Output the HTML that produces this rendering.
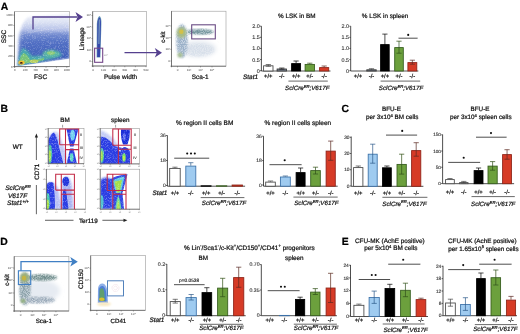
<!DOCTYPE html>
<html><head><meta charset="utf-8"><style>
html,body{margin:0;padding:0;background:#fff;width:520px;height:334px;overflow:hidden}
svg{display:block;will-change:transform}
text{font-family:"Liberation Sans", sans-serif;text-rendering:geometricPrecision}
</style></head><body>
<svg width="520" height="334" viewBox="0 0 520 334" font-family='"Liberation Sans", sans-serif'>
<defs>
<filter id="bl1" x="-20%" y="-20%" width="140%" height="140%"><feGaussianBlur stdDeviation="1.2"/></filter>
<filter id="bl2" x="-20%" y="-20%" width="140%" height="140%"><feGaussianBlur stdDeviation="2"/></filter>
<filter id="speck" x="-10%" y="-10%" width="120%" height="120%"><feGaussianBlur stdDeviation="1.2" result="b"/><feTurbulence type="fractalNoise" baseFrequency="0.9" numOctaves="2" seed="7" result="n"/><feColorMatrix in="n" type="matrix" values="0 0 0 0 0  0 0 0 0 0  0 0 0 0 0  0 0 0 3.2 -1.0" result="na"/><feComposite in="b" in2="na" operator="in"/></filter>
<filter id="wnoise" x="0" y="0" width="100%" height="100%"><feTurbulence type="fractalNoise" baseFrequency="1.6" numOctaves="1" seed="11" result="n"/><feColorMatrix in="n" type="matrix" values="0 0 0 0 1  0 0 0 0 1  0 0 0 0 1  0 0 0 3 -1.45"/></filter>
<filter id="gblur" x="0" y="0" width="520" height="334" filterUnits="userSpaceOnUse"><feGaussianBlur stdDeviation="0.3"/></filter>
<filter id="bl05" x="-20%" y="-20%" width="140%" height="140%"><feGaussianBlur stdDeviation="0.6"/></filter>
<clipPath id="cA1"><rect x="14.5" y="11.7" width="55.2" height="54.9"/></clipPath>
<clipPath id="cA2"><rect x="92.7" y="11.5" width="53.9" height="54.5"/></clipPath>
<clipPath id="cA3"><rect x="171.5" y="11.2" width="54.5" height="55"/></clipPath>
<clipPath id="cB1"><rect x="48.2" y="128.3" width="35.8" height="35.4"/></clipPath>
<clipPath id="cB2"><rect x="100.2" y="128.3" width="39.3" height="35.6"/></clipPath>
<clipPath id="cB3"><rect x="46.4" y="169.2" width="39" height="40"/></clipPath>
<clipPath id="cB4"><rect x="100.2" y="169.2" width="39.5" height="40"/></clipPath>
<clipPath id="cD1"><rect x="14.2" y="256.4" width="54.7" height="54.6"/></clipPath>
<clipPath id="cD2"><rect x="90.7" y="255.7" width="54.7" height="54.6"/></clipPath>
</defs>
<rect width="520" height="334" fill="#fff"/>
<g filter="url(#gblur)">
<text x="0.8" y="10.2" font-size="10.4" text-anchor="start" font-weight="bold" font-style="normal" fill="#000" stroke="#000" stroke-width="0.22" >A</text>
<text x="0.6" y="112.3" font-size="10.4" text-anchor="start" font-weight="bold" font-style="normal" fill="#000" stroke="#000" stroke-width="0.22" >B</text>
<text x="341.4" y="112.3" font-size="10.4" text-anchor="start" font-weight="bold" font-style="normal" fill="#000" stroke="#000" stroke-width="0.22" >C</text>
<text x="0.2" y="244.6" font-size="10.4" text-anchor="start" font-weight="bold" font-style="normal" fill="#000" stroke="#000" stroke-width="0.22" >D</text>
<text x="341.8" y="244.6" font-size="10.4" text-anchor="start" font-weight="bold" font-style="normal" fill="#000" stroke="#000" stroke-width="0.22" >E</text>
<defs><linearGradient id="gA1" x1="0" y1="12" x2="0" y2="66" gradientUnits="userSpaceOnUse">
<stop offset="0" stop-color="#f4f5fb"/><stop offset="0.185" stop-color="#dde3f4"/><stop offset="0.333" stop-color="#b4c0e8"/>
<stop offset="0.41" stop-color="#748cd0"/><stop offset="0.56" stop-color="#5270c4"/><stop offset="1" stop-color="#3656b4"/></linearGradient>
<linearGradient id="gA1x" x1="15" y1="0" x2="30" y2="0" gradientUnits="userSpaceOnUse">
<stop offset="0" stop-color="#fff" stop-opacity="1"/><stop offset="1" stop-color="#fff" stop-opacity="0"/></linearGradient></defs>
<g clip-path="url(#cA1)">
<path d="M17.5,66 L17.8,40 Q19,24 28,17 L69.7,14 L69.7,58.5 Z" fill="url(#gA1)" filter="url(#bl1)"/>
<path d="M14,12 L26,12 Q20,24 19,40 L17,66 L14,66 Z" fill="#fff" filter="url(#bl2)" opacity="0.85"/>
<path d="M18,66 Q18.5,52 23,48 Q28,50 32,56 Q45,56 60,52 L62,56 Q45,61 18,66 Z" fill="#4aa8ae" filter="url(#bl1)"/>
<path d="M19,64 Q20,55 24,53 Q28,55 30,60 Q38,60 44,58 L44,60 Q30,63 19,64 Z" fill="#78c478" filter="url(#bl05)"/>
<ellipse cx="51" cy="53.5" rx="8.5" ry="3.5" fill="#5cb8a0" filter="url(#bl1)"/>
<ellipse cx="51" cy="53" rx="4" ry="1.8" fill="#8ecb7a" filter="url(#bl05)"/>
<ellipse cx="34" cy="61.2" rx="4.5" ry="1.8" fill="#b8d060" filter="url(#bl05)"/>
<ellipse cx="21.5" cy="62.6" rx="3.2" ry="2.2" fill="#f0c030" filter="url(#bl05)"/>
<ellipse cx="21.2" cy="63" rx="1.5" ry="1.1" fill="#401808" filter="url(#bl05)"/>
<rect x="14" y="11" width="56" height="56" filter="url(#wnoise)" opacity="0.32"/>
<path d="M14,66.8 L69.7,58.8 L69.7,70 L14,70 Z" fill="#fff" filter="url(#bl05)"/>
<path d="M18.5,35.5 Q40,29 69,27.5" fill="none" stroke="#e8e8f0" stroke-width="0.5" stroke-dasharray="1 0.8" opacity="0.8"/>
</g>
<rect x="14.5" y="11.7" width="55.2" height="54.89999999999999" fill="none" stroke="#9a9a9a" stroke-width="0.6" />
<line x1="14.5" y1="11.7" x2="14.5" y2="67.6" stroke="#555" stroke-width="0.7" />
<line x1="13.5" y1="66.6" x2="69.7" y2="66.6" stroke="#555" stroke-width="0.7" />
<line x1="13.3" y1="66.6" x2="14.5" y2="66.6" stroke="#555" stroke-width="0.5" />
<text x="12.6" y="67.5" font-size="2.8" text-anchor="end" font-weight="normal" font-style="normal" fill="#444" >0</text>
<line x1="14.8" y1="66.6" x2="14.8" y2="67.8" stroke="#555" stroke-width="0.5" />
<text x="14.8" y="71.3" font-size="2.8" text-anchor="middle" font-weight="normal" font-style="normal" fill="#444" >0</text>
<line x1="13.3" y1="56.3" x2="14.5" y2="56.3" stroke="#555" stroke-width="0.5" />
<text x="12.6" y="57.199999999999996" font-size="2.8" text-anchor="end" font-weight="normal" font-style="normal" fill="#444" >200</text>
<line x1="25.200000000000003" y1="66.6" x2="25.200000000000003" y2="67.8" stroke="#555" stroke-width="0.5" />
<text x="25.200000000000003" y="71.3" font-size="2.8" text-anchor="middle" font-weight="normal" font-style="normal" fill="#444" >200</text>
<line x1="13.3" y1="45.99999999999999" x2="14.5" y2="45.99999999999999" stroke="#555" stroke-width="0.5" />
<text x="12.6" y="46.89999999999999" font-size="2.8" text-anchor="end" font-weight="normal" font-style="normal" fill="#444" >400</text>
<line x1="35.6" y1="66.6" x2="35.6" y2="67.8" stroke="#555" stroke-width="0.5" />
<text x="35.6" y="71.3" font-size="2.8" text-anchor="middle" font-weight="normal" font-style="normal" fill="#444" >400</text>
<line x1="13.3" y1="35.69999999999999" x2="14.5" y2="35.69999999999999" stroke="#555" stroke-width="0.5" />
<text x="12.6" y="36.59999999999999" font-size="2.8" text-anchor="end" font-weight="normal" font-style="normal" fill="#444" >600</text>
<line x1="46.0" y1="66.6" x2="46.0" y2="67.8" stroke="#555" stroke-width="0.5" />
<text x="46.0" y="71.3" font-size="2.8" text-anchor="middle" font-weight="normal" font-style="normal" fill="#444" >600</text>
<line x1="13.3" y1="25.39999999999999" x2="14.5" y2="25.39999999999999" stroke="#555" stroke-width="0.5" />
<text x="12.6" y="26.29999999999999" font-size="2.8" text-anchor="end" font-weight="normal" font-style="normal" fill="#444" >800</text>
<line x1="56.400000000000006" y1="66.6" x2="56.400000000000006" y2="67.8" stroke="#555" stroke-width="0.5" />
<text x="56.400000000000006" y="71.3" font-size="2.8" text-anchor="middle" font-weight="normal" font-style="normal" fill="#444" >800</text>
<line x1="13.3" y1="15.099999999999994" x2="14.5" y2="15.099999999999994" stroke="#555" stroke-width="0.5" />
<text x="12.6" y="15.999999999999995" font-size="2.8" text-anchor="end" font-weight="normal" font-style="normal" fill="#444" >1000</text>
<line x1="66.8" y1="66.6" x2="66.8" y2="67.8" stroke="#555" stroke-width="0.5" />
<text x="66.8" y="71.3" font-size="2.8" text-anchor="middle" font-weight="normal" font-style="normal" fill="#444" >1000</text>
<text x="40.6" y="79" font-size="6.6" text-anchor="middle" font-weight="normal" font-style="normal" fill="#111" stroke="#111" stroke-width="0.22" >FSC</text>
<text x="0" y="0" font-size="6.6" text-anchor="middle" font-weight="normal" font-style="normal" fill="#111" stroke="#111" stroke-width="0.22" transform="translate(6.2,36.5) rotate(-90)">SSC</text>
<path d="M33,29.5 L33,17 L77,17" fill="none" stroke="#54408e" stroke-width="1.3"/>
<path d="M75.5,12 L83,17 L75.5,22 L77.5,17 Z" fill="#54408e"/>
<g clip-path="url(#cA2)">
<path d="M96.6,57.5 L96.8,24 Q97.4,16.5 99.6,16 Q101.6,17 101.4,24 L100.4,57.5 Z" fill="#6c9cb8" filter="url(#bl05)"/>
<path d="M97.2,57 L97.4,24 Q97.8,18 99.6,17.5 Q101,18.5 100.9,24 L99.9,57 Z" fill="#3446ac" filter="url(#bl05)"/>
<path d="M99.3,19.5 L98.9,44" stroke="#a8d8d0" stroke-width="0.7" filter="url(#bl05)"/>
</g>
<rect x="92.7" y="11.5" width="53.89999999999999" height="54.5" fill="none" stroke="#9a9a9a" stroke-width="0.6" />
<line x1="92.7" y1="11.5" x2="92.7" y2="67" stroke="#555" stroke-width="0.7" />
<line x1="91.7" y1="66" x2="146.6" y2="66" stroke="#555" stroke-width="0.7" />
<rect x="94.6" y="48.2" width="8.1" height="14.1" fill="none" stroke="#74478a" stroke-width="1.1" />
<text x="104.2" y="55.5" font-size="2.4" text-anchor="start" font-weight="normal" font-style="normal" fill="#666" >2.7</text>
<line x1="93.0" y1="66" x2="93.0" y2="67.2" stroke="#555" stroke-width="0.5" />
<text x="93.0" y="70.8" font-size="3.0" text-anchor="middle" font-weight="normal" font-style="normal" fill="#444" >0</text>
<line x1="103.6" y1="66" x2="103.6" y2="67.2" stroke="#555" stroke-width="0.5" />
<text x="103.6" y="70.8" font-size="3.0" text-anchor="middle" font-weight="normal" font-style="normal" fill="#444" >100</text>
<line x1="114.2" y1="66" x2="114.2" y2="67.2" stroke="#555" stroke-width="0.5" />
<text x="114.2" y="70.8" font-size="3.0" text-anchor="middle" font-weight="normal" font-style="normal" fill="#444" >200</text>
<line x1="124.8" y1="66" x2="124.8" y2="67.2" stroke="#555" stroke-width="0.5" />
<text x="124.8" y="70.8" font-size="3.0" text-anchor="middle" font-weight="normal" font-style="normal" fill="#444" >300</text>
<line x1="135.4" y1="66" x2="135.4" y2="67.2" stroke="#555" stroke-width="0.5" />
<text x="135.4" y="70.8" font-size="3.0" text-anchor="middle" font-weight="normal" font-style="normal" fill="#444" >400</text>
<line x1="146.0" y1="66" x2="146.0" y2="67.2" stroke="#555" stroke-width="0.5" />
<text x="146.0" y="70.8" font-size="3.0" text-anchor="middle" font-weight="normal" font-style="normal" fill="#444" >500</text>
<line x1="91.5" y1="61.5" x2="92.7" y2="61.5" stroke="#555" stroke-width="0.5" />
<text x="91" y="62.4" font-size="3.0" text-anchor="end" font-weight="normal" font-style="normal" fill="#444" >0</text>
<line x1="91.5" y1="50.0" x2="92.7" y2="50.0" stroke="#555" stroke-width="0.5" />
<text x="91" y="50.9" font-size="3.0" text-anchor="end" font-weight="normal" font-style="normal" fill="#444" >10²</text>
<line x1="91.5" y1="38.5" x2="92.7" y2="38.5" stroke="#555" stroke-width="0.5" />
<text x="91" y="39.4" font-size="3.0" text-anchor="end" font-weight="normal" font-style="normal" fill="#444" >10³</text>
<line x1="91.5" y1="27.0" x2="92.7" y2="27.0" stroke="#555" stroke-width="0.5" />
<text x="91" y="27.9" font-size="3.0" text-anchor="end" font-weight="normal" font-style="normal" fill="#444" >10⁴</text>
<line x1="91.5" y1="15.5" x2="92.7" y2="15.5" stroke="#555" stroke-width="0.5" />
<text x="91" y="16.4" font-size="3.0" text-anchor="end" font-weight="normal" font-style="normal" fill="#444" >10⁵</text>
<text x="120.6" y="79" font-size="6.5" text-anchor="middle" font-weight="normal" font-style="normal" fill="#111" stroke="#111" stroke-width="0.22" >Pulse width</text>
<text x="0" y="0" font-size="6.4" text-anchor="middle" font-weight="normal" font-style="normal" fill="#111" stroke="#111" stroke-width="0.22" transform="translate(83.6,38.75) rotate(-90)">Lineage</text>
<path d="M124.5,52.7 L157,52.7" fill="none" stroke="#54408e" stroke-width="1.3"/>
<path d="M154.8,48 L162,52.7 L154.8,57.5 L156.8,52.7 Z" fill="#54408e"/>
<g clip-path="url(#cA3)">
<ellipse cx="198" cy="49" rx="18" ry="8" fill="#e4e9f0" filter="url(#bl2)"/>
<ellipse cx="198" cy="50" rx="16" ry="6.5" fill="#c6d2e2" filter="url(#speck)" opacity="0.45"/>
<ellipse cx="182" cy="41" rx="5.5" ry="16.5" fill="#c8d4e2" filter="url(#bl1)"/>
<ellipse cx="182" cy="41" rx="5.5" ry="16.5" fill="#9ab0c8" filter="url(#speck)"/>
<ellipse cx="200" cy="31.8" rx="13.5" ry="2.6" fill="#a8bec4" filter="url(#bl1)"/>
<ellipse cx="200" cy="31.8" rx="13.5" ry="2.6" fill="#6f929a" filter="url(#speck)"/>
<ellipse cx="181.5" cy="32.5" rx="4.8" ry="5.5" fill="#a8bc84" filter="url(#bl1)"/>
<ellipse cx="181.3" cy="31.8" rx="2.2" ry="2.2" fill="#d2c04a" filter="url(#bl05)"/>
<ellipse cx="180" cy="55" rx="2.5" ry="2.5" fill="#a8c090" filter="url(#bl1)"/>
</g>
<rect x="171.5" y="11.2" width="54.5" height="55.0" fill="none" stroke="#9a9a9a" stroke-width="0.6" />
<line x1="171.5" y1="11.2" x2="171.5" y2="67.2" stroke="#555" stroke-width="0.7" />
<line x1="170.5" y1="66.2" x2="226" y2="66.2" stroke="#555" stroke-width="0.7" />
<rect x="191.7" y="24.8" width="23.6" height="14.1" fill="none" stroke="#6a4c84" stroke-width="1.1" />
<line x1="177.5" y1="66.2" x2="177.5" y2="67.4" stroke="#555" stroke-width="0.5" />
<text x="177.5" y="70.8" font-size="3.0" text-anchor="middle" font-weight="normal" font-style="normal" fill="#444" >0</text>
<line x1="170.3" y1="61.0" x2="171.5" y2="61.0" stroke="#555" stroke-width="0.5" />
<text x="169.8" y="61.9" font-size="3.0" text-anchor="end" font-weight="normal" font-style="normal" fill="#444" >0</text>
<line x1="189.0" y1="66.2" x2="189.0" y2="67.4" stroke="#555" stroke-width="0.5" />
<text x="189.0" y="70.8" font-size="3.0" text-anchor="middle" font-weight="normal" font-style="normal" fill="#444" >10²</text>
<line x1="170.3" y1="49.3" x2="171.5" y2="49.3" stroke="#555" stroke-width="0.5" />
<text x="169.8" y="50.199999999999996" font-size="3.0" text-anchor="end" font-weight="normal" font-style="normal" fill="#444" >10²</text>
<line x1="200.5" y1="66.2" x2="200.5" y2="67.4" stroke="#555" stroke-width="0.5" />
<text x="200.5" y="70.8" font-size="3.0" text-anchor="middle" font-weight="normal" font-style="normal" fill="#444" >10³</text>
<line x1="170.3" y1="37.6" x2="171.5" y2="37.6" stroke="#555" stroke-width="0.5" />
<text x="169.8" y="38.5" font-size="3.0" text-anchor="end" font-weight="normal" font-style="normal" fill="#444" >10³</text>
<line x1="212.0" y1="66.2" x2="212.0" y2="67.4" stroke="#555" stroke-width="0.5" />
<text x="212.0" y="70.8" font-size="3.0" text-anchor="middle" font-weight="normal" font-style="normal" fill="#444" >10⁴</text>
<line x1="170.3" y1="25.900000000000006" x2="171.5" y2="25.900000000000006" stroke="#555" stroke-width="0.5" />
<text x="169.8" y="26.800000000000004" font-size="3.0" text-anchor="end" font-weight="normal" font-style="normal" fill="#444" >10⁴</text>
<text x="200.2" y="79" font-size="6.4" text-anchor="middle" font-weight="normal" font-style="normal" fill="#111" stroke="#111" stroke-width="0.22" >Sca-1</text>
<text x="0" y="0" font-size="6.1" text-anchor="middle" font-weight="normal" font-style="normal" fill="#111" stroke="#111" stroke-width="0.22" transform="translate(164.8,37.1) rotate(-90)">c-kit</text>
<text x="296.8" y="17.7" font-size="6.35" text-anchor="middle" font-weight="normal" font-style="normal" fill="#111" stroke="#111" stroke-width="0.22" >% LSK in BM</text>
<line x1="261.4" y1="26.2" x2="261.4" y2="71" stroke="#222" stroke-width="0.8" />
<line x1="261.4" y1="71" x2="330.5" y2="71" stroke="#222" stroke-width="0.8" />
<line x1="260.0" y1="26.200000000000003" x2="261.4" y2="26.200000000000003" stroke="#222" stroke-width="0.7" />
<text x="259.7" y="28.144000000000002" font-size="5.4" text-anchor="end" font-weight="normal" font-style="normal" fill="#333" stroke="#333" stroke-width="0.12" >2.0</text>
<line x1="260.0" y1="37.325" x2="261.4" y2="37.325" stroke="#222" stroke-width="0.7" />
<text x="259.7" y="39.269000000000005" font-size="5.4" text-anchor="end" font-weight="normal" font-style="normal" fill="#333" stroke="#333" stroke-width="0.12" >1.5</text>
<line x1="260.0" y1="48.45" x2="261.4" y2="48.45" stroke="#222" stroke-width="0.7" />
<text x="259.7" y="50.394000000000005" font-size="5.4" text-anchor="end" font-weight="normal" font-style="normal" fill="#333" stroke="#333" stroke-width="0.12" >1.0</text>
<line x1="260.0" y1="59.575" x2="261.4" y2="59.575" stroke="#222" stroke-width="0.7" />
<text x="259.7" y="61.519000000000005" font-size="5.4" text-anchor="end" font-weight="normal" font-style="normal" fill="#333" stroke="#333" stroke-width="0.12" >0.5</text>
<line x1="260.0" y1="70.7" x2="261.4" y2="70.7" stroke="#222" stroke-width="0.7" />
<text x="259.7" y="72.644" font-size="5.4" text-anchor="end" font-weight="normal" font-style="normal" fill="#333" stroke="#333" stroke-width="0.12" >0</text>
<rect x="263.59999999999997" y="65.80000000000001" width="9.399999999999988" height="5.199999999999994" fill="#ffffff" stroke="#444444" stroke-width="0.85" />
<line x1="268.29999999999995" y1="64.5" x2="268.29999999999995" y2="66.3" stroke="#444" stroke-width="0.7" />
<line x1="265.69999999999993" y1="64.5" x2="270.9" y2="64.5" stroke="#444" stroke-width="0.7" />
<line x1="265.69999999999993" y1="66.3" x2="270.9" y2="66.3" stroke="#444" stroke-width="0.7" />
<rect x="277.09999999999997" y="69.0" width="9.399999999999988" height="2.0000000000000058" fill="#7d8898" stroke="#333333" stroke-width="0.85" />
<line x1="281.79999999999995" y1="68.0" x2="281.79999999999995" y2="69.2" stroke="#222" stroke-width="0.7" />
<line x1="279.19999999999993" y1="68.0" x2="284.4" y2="68.0" stroke="#222" stroke-width="0.7" />
<line x1="279.19999999999993" y1="69.2" x2="284.4" y2="69.2" stroke="#222" stroke-width="0.7" />
<rect x="291.59999999999997" y="63.6" width="9.00000000000001" height="7.399999999999997" fill="#060606" stroke="#000000" stroke-width="0.85" />
<line x1="296.1" y1="61" x2="296.1" y2="63.2" stroke="#000" stroke-width="0.7" />
<line x1="293.5" y1="61" x2="298.70000000000005" y2="61" stroke="#000" stroke-width="0.7" />
<rect x="305.09999999999997" y="64.4" width="9.399999999999988" height="6.6" fill="#6ca03e" stroke="#355c1c" stroke-width="0.85" />
<line x1="309.79999999999995" y1="63.2" x2="309.79999999999995" y2="64" stroke="#2f4f18" stroke-width="0.7" />
<line x1="307.19999999999993" y1="63.2" x2="312.4" y2="63.2" stroke="#2f4f18" stroke-width="0.7" />
<rect x="319.59999999999997" y="67.60000000000001" width="9.100000000000033" height="3.3999999999999972" fill="#d63a28" stroke="#8e2416" stroke-width="0.85" />
<line x1="324.15" y1="66" x2="324.15" y2="67.2" stroke="#5a2a22" stroke-width="0.7" />
<line x1="321.54999999999995" y1="66" x2="326.75" y2="66" stroke="#5a2a22" stroke-width="0.7" />
<text x="268.29999999999995" y="78.2" font-size="5.8" text-anchor="middle" font-weight="normal" font-style="normal" fill="#111" stroke="#111" stroke-width="0.22" >+/+</text>
<text x="281.79999999999995" y="78.2" font-size="5.8" text-anchor="middle" font-weight="normal" font-style="normal" fill="#111" stroke="#111" stroke-width="0.22" >-/-</text>
<text x="296.1" y="78.2" font-size="5.8" text-anchor="middle" font-weight="normal" font-style="normal" fill="#111" stroke="#111" stroke-width="0.22" >+/+</text>
<text x="309.79999999999995" y="78.2" font-size="5.8" text-anchor="middle" font-weight="normal" font-style="normal" fill="#111" stroke="#111" stroke-width="0.22" >+/-</text>
<text x="324.15" y="78.2" font-size="5.8" text-anchor="middle" font-weight="normal" font-style="normal" fill="#111" stroke="#111" stroke-width="0.22" >-/-</text>
<text x="258" y="78.6" font-size="6.4" text-anchor="end" font-weight="normal" font-style="italic" fill="#111" stroke="#111" stroke-width="0.22" >Stat1</text>
<line x1="288.4" y1="81.1" x2="327.8" y2="81.1" stroke="#444" stroke-width="0.8" />
<text x="307.3" y="90.2" font-size="6.2" text-anchor="middle" font-weight="normal" font-style="italic" fill="#111" stroke="#111" stroke-width="0.22" >SclCre<tspan font-size="4.2" dy="-2.3">ER</tspan><tspan dy="2.3">;V617F</tspan></text>
<text x="385.1" y="17.7" font-size="6.35" text-anchor="middle" font-weight="normal" font-style="normal" fill="#111" stroke="#111" stroke-width="0.22" >% LSK in spleen</text>
<line x1="350.7" y1="26.2" x2="350.7" y2="71" stroke="#222" stroke-width="0.8" />
<line x1="350.7" y1="71" x2="418.3" y2="71" stroke="#222" stroke-width="0.8" />
<line x1="349.3" y1="26.200000000000003" x2="350.7" y2="26.200000000000003" stroke="#222" stroke-width="0.7" />
<text x="349.0" y="28.144000000000002" font-size="5.4" text-anchor="end" font-weight="normal" font-style="normal" fill="#333" stroke="#333" stroke-width="0.12" >2.0</text>
<line x1="349.3" y1="37.325" x2="350.7" y2="37.325" stroke="#222" stroke-width="0.7" />
<text x="349.0" y="39.269000000000005" font-size="5.4" text-anchor="end" font-weight="normal" font-style="normal" fill="#333" stroke="#333" stroke-width="0.12" >1.5</text>
<line x1="349.3" y1="48.45" x2="350.7" y2="48.45" stroke="#222" stroke-width="0.7" />
<text x="349.0" y="50.394000000000005" font-size="5.4" text-anchor="end" font-weight="normal" font-style="normal" fill="#333" stroke="#333" stroke-width="0.12" >1.0</text>
<line x1="349.3" y1="59.575" x2="350.7" y2="59.575" stroke="#222" stroke-width="0.7" />
<text x="349.0" y="61.519000000000005" font-size="5.4" text-anchor="end" font-weight="normal" font-style="normal" fill="#333" stroke="#333" stroke-width="0.12" >0.5</text>
<line x1="349.3" y1="70.7" x2="350.7" y2="70.7" stroke="#222" stroke-width="0.7" />
<text x="349.0" y="72.644" font-size="5.4" text-anchor="end" font-weight="normal" font-style="normal" fill="#333" stroke="#333" stroke-width="0.12" >0</text>
<rect x="353.4" y="71.0" width="9.2" height="5.662137425588298e-15" fill="#ffffff" stroke="#444444" stroke-width="0.85" />
<rect x="366.79999999999995" y="69.80000000000001" width="9.400000000000045" height="1.1999999999999944" fill="#7d8898" stroke="#333333" stroke-width="0.85" />
<line x1="371.5" y1="68.8" x2="371.5" y2="69.4" stroke="#222" stroke-width="0.7" />
<line x1="368.9" y1="68.8" x2="374.1" y2="68.8" stroke="#222" stroke-width="0.7" />
<rect x="380.59999999999997" y="44.6" width="8.600000000000033" height="26.4" fill="#060606" stroke="#000000" stroke-width="0.85" />
<line x1="384.9" y1="34.1" x2="384.9" y2="54" stroke="#000" stroke-width="0.7" />
<line x1="382.29999999999995" y1="34.1" x2="387.5" y2="34.1" stroke="#000" stroke-width="0.7" />
<line x1="382.29999999999995" y1="54" x2="387.5" y2="54" stroke="#000" stroke-width="0.7" />
<rect x="394.7" y="47.6" width="8.599999999999977" height="23.4" fill="#6ca03e" stroke="#355c1c" stroke-width="0.85" />
<line x1="399.0" y1="41.2" x2="399.0" y2="53.2" stroke="#2f4f18" stroke-width="0.7" />
<line x1="396.4" y1="41.2" x2="401.6" y2="41.2" stroke="#2f4f18" stroke-width="0.7" />
<line x1="396.4" y1="53.2" x2="401.6" y2="53.2" stroke="#2f4f18" stroke-width="0.7" />
<rect x="407.9" y="62.6" width="8.899999999999988" height="8.399999999999997" fill="#d63a28" stroke="#8e2416" stroke-width="0.85" />
<line x1="412.35" y1="60.2" x2="412.35" y2="64.2" stroke="#5a2a22" stroke-width="0.7" />
<line x1="409.75" y1="60.2" x2="414.95000000000005" y2="60.2" stroke="#5a2a22" stroke-width="0.7" />
<line x1="409.75" y1="64.2" x2="414.95000000000005" y2="64.2" stroke="#5a2a22" stroke-width="0.7" />
<text x="358.0" y="78.2" font-size="5.8" text-anchor="middle" font-weight="normal" font-style="normal" fill="#111" stroke="#111" stroke-width="0.22" >+/+</text>
<text x="371.5" y="78.2" font-size="5.8" text-anchor="middle" font-weight="normal" font-style="normal" fill="#111" stroke="#111" stroke-width="0.22" >-/-</text>
<text x="384.9" y="78.2" font-size="5.8" text-anchor="middle" font-weight="normal" font-style="normal" fill="#111" stroke="#111" stroke-width="0.22" >+/+</text>
<text x="399.0" y="78.2" font-size="5.8" text-anchor="middle" font-weight="normal" font-style="normal" fill="#111" stroke="#111" stroke-width="0.22" >+/-</text>
<text x="412.35" y="78.2" font-size="5.8" text-anchor="middle" font-weight="normal" font-style="normal" fill="#111" stroke="#111" stroke-width="0.22" >-/-</text>
<line x1="380.6" y1="81.1" x2="420.2" y2="81.1" stroke="#444" stroke-width="0.8" />
<text x="401" y="90.2" font-size="6.2" text-anchor="middle" font-weight="normal" font-style="italic" fill="#111" stroke="#111" stroke-width="0.22" >SclCre<tspan font-size="4.2" dy="-2.3">ER</tspan><tspan dy="2.3">;V617F</tspan></text>
<line x1="398.5" y1="38.2" x2="417.6" y2="38.2" stroke="#222" stroke-width="0.8" />
<circle cx="408.20" cy="34.9" r="1.05" fill="#111"/>
<g clip-path="url(#cB1)">
<path d="M48,164 L48,138 Q53,129 58,133 Q62,142 66,152 L67,164 Z" fill="#c0c8f6" filter="url(#bl1)"/>
<path d="M48,164 L48,141 Q51,133 54,132.5 Q57,136 59,147 L63.5,164 Z" fill="#2a3ce4" filter="url(#bl05)"/>
<ellipse cx="50" cy="154" rx="2" ry="9.5" fill="#4cc8a0" filter="url(#bl05)"/>
<ellipse cx="49.8" cy="156" rx="1.1" ry="6" fill="#b0e048" filter="url(#bl05)"/>
<path d="M66.5,129 L78.5,129 L73.5,146.5 L70,146.5 Z" fill="#2a3ee4" filter="url(#bl05)"/>
<ellipse cx="72.6" cy="135" rx="2.4" ry="5.5" fill="#70d0f0" filter="url(#bl05)"/>
<path d="M70,148.5 L73.5,148.5 L77,164 L66.5,164 Z" fill="#2a3ee4" filter="url(#bl05)"/>
<ellipse cx="71.7" cy="157.5" rx="1.8" ry="4.2" fill="#60d8c8" filter="url(#bl05)"/>
<rect x="48" y="128" width="36" height="36" filter="url(#wnoise)" opacity="0.4"/>
</g>
<rect x="48.2" y="128.3" width="35.8" height="35.39999999999998" fill="none" stroke="#999" stroke-width="0.6" />
<line x1="48.2" y1="128.3" x2="48.2" y2="163.7" stroke="#555" stroke-width="0.6" />
<line x1="48.2" y1="163.7" x2="84" y2="163.7" stroke="#555" stroke-width="0.6" />
<line x1="48.7" y1="163.7" x2="48.7" y2="164.7" stroke="#555" stroke-width="0.4" />
<text x="48.7" y="167.0" font-size="2.0" text-anchor="middle" font-weight="normal" font-style="normal" fill="#777" >10</text>
<line x1="47.2" y1="163.2" x2="48.2" y2="163.2" stroke="#555" stroke-width="0.4" />
<text x="46.900000000000006" y="163.89999999999998" font-size="2.0" text-anchor="end" font-weight="normal" font-style="normal" fill="#777" >10</text>
<line x1="57.400000000000006" y1="163.7" x2="57.400000000000006" y2="164.7" stroke="#555" stroke-width="0.4" />
<text x="57.400000000000006" y="167.0" font-size="2.0" text-anchor="middle" font-weight="normal" font-style="normal" fill="#777" >10</text>
<line x1="47.2" y1="154.6" x2="48.2" y2="154.6" stroke="#555" stroke-width="0.4" />
<text x="46.900000000000006" y="155.29999999999998" font-size="2.0" text-anchor="end" font-weight="normal" font-style="normal" fill="#777" >10</text>
<line x1="66.1" y1="163.7" x2="66.1" y2="164.7" stroke="#555" stroke-width="0.4" />
<text x="66.1" y="167.0" font-size="2.0" text-anchor="middle" font-weight="normal" font-style="normal" fill="#777" >10</text>
<line x1="47.2" y1="146.0" x2="48.2" y2="146.0" stroke="#555" stroke-width="0.4" />
<text x="46.900000000000006" y="146.7" font-size="2.0" text-anchor="end" font-weight="normal" font-style="normal" fill="#777" >10</text>
<line x1="74.8" y1="163.7" x2="74.8" y2="164.7" stroke="#555" stroke-width="0.4" />
<text x="74.8" y="167.0" font-size="2.0" text-anchor="middle" font-weight="normal" font-style="normal" fill="#777" >10</text>
<line x1="47.2" y1="137.4" x2="48.2" y2="137.4" stroke="#555" stroke-width="0.4" />
<text x="46.900000000000006" y="138.1" font-size="2.0" text-anchor="end" font-weight="normal" font-style="normal" fill="#777" >10</text>
<line x1="83.5" y1="163.7" x2="83.5" y2="164.7" stroke="#555" stroke-width="0.4" />
<text x="83.5" y="167.0" font-size="2.0" text-anchor="middle" font-weight="normal" font-style="normal" fill="#777" >10</text>
<line x1="47.2" y1="128.8" x2="48.2" y2="128.8" stroke="#555" stroke-width="0.4" />
<text x="46.900000000000006" y="129.5" font-size="2.0" text-anchor="end" font-weight="normal" font-style="normal" fill="#777" >10</text>
<path d="M59.7,144.7 L59.7,129 L78.7,129 L78.7,163.7 M65.5,129 L65.5,163.7 M59.7,144.7 L78.7,144.7 M65.5,149.6 L78.7,149.6" fill="none" stroke="#c22a46" stroke-width="1.05"/>
<g clip-path="url(#cB2)">
<path d="M100,164 L100,130 Q108,132 116,142 L121,152 L122,164 Z" fill="#c4ccf6" filter="url(#bl1)"/>
<path d="M100,164 L100,137 Q104,135.5 110,141 Q116,147 121,153 L121.5,164 Z" fill="#2a3ce4" filter="url(#bl05)"/>
<path d="M112,146 Q118,146 124,148.5 L123,150.5 Q117,149 113,149 Z" fill="#3a4ce6" filter="url(#bl05)"/>
<ellipse cx="101.8" cy="155.5" rx="2.3" ry="7.5" fill="#48c0a8" filter="url(#bl05)"/>
<ellipse cx="101.6" cy="156" rx="1.2" ry="5" fill="#a8e050" filter="url(#bl05)"/>
<path d="M121,129.5 L130,129.5 Q130,138 127.5,144.5 L123,144.5 Q120.5,138 121,129.5 Z" fill="#1a2ed8" filter="url(#bl05)"/>
<ellipse cx="124.3" cy="137" rx="1.4" ry="4" fill="#5a6af0" filter="url(#bl05)"/>
<path d="M119.5,164 L120,152 Q122,147 125,147 Q129,148 130,152 L130,164 Z" fill="#2a3ee2" filter="url(#bl05)"/>
<ellipse cx="124" cy="157.5" rx="1.8" ry="4.2" fill="#78e070" filter="url(#bl05)"/>
<ellipse cx="124" cy="158" rx="0.9" ry="2.2" fill="#d0e840" filter="url(#bl05)"/>
<rect x="100" y="128" width="40" height="36" filter="url(#wnoise)" opacity="0.4"/>
</g>
<rect x="100.2" y="128.3" width="39.3" height="35.599999999999994" fill="none" stroke="#999" stroke-width="0.6" />
<line x1="100.2" y1="128.3" x2="100.2" y2="163.9" stroke="#555" stroke-width="0.6" />
<line x1="100.2" y1="163.9" x2="139.5" y2="163.9" stroke="#555" stroke-width="0.6" />
<line x1="100.7" y1="163.9" x2="100.7" y2="164.9" stroke="#555" stroke-width="0.4" />
<text x="100.7" y="167.20000000000002" font-size="2.0" text-anchor="middle" font-weight="normal" font-style="normal" fill="#777" >10</text>
<line x1="99.2" y1="163.4" x2="100.2" y2="163.4" stroke="#555" stroke-width="0.4" />
<text x="98.9" y="164.1" font-size="2.0" text-anchor="end" font-weight="normal" font-style="normal" fill="#777" >10</text>
<line x1="110.275" y1="163.9" x2="110.275" y2="164.9" stroke="#555" stroke-width="0.4" />
<text x="110.275" y="167.20000000000002" font-size="2.0" text-anchor="middle" font-weight="normal" font-style="normal" fill="#777" >10</text>
<line x1="99.2" y1="154.75" x2="100.2" y2="154.75" stroke="#555" stroke-width="0.4" />
<text x="98.9" y="155.45" font-size="2.0" text-anchor="end" font-weight="normal" font-style="normal" fill="#777" >10</text>
<line x1="119.85" y1="163.9" x2="119.85" y2="164.9" stroke="#555" stroke-width="0.4" />
<text x="119.85" y="167.20000000000002" font-size="2.0" text-anchor="middle" font-weight="normal" font-style="normal" fill="#777" >10</text>
<line x1="99.2" y1="146.10000000000002" x2="100.2" y2="146.10000000000002" stroke="#555" stroke-width="0.4" />
<text x="98.9" y="146.8" font-size="2.0" text-anchor="end" font-weight="normal" font-style="normal" fill="#777" >10</text>
<line x1="129.425" y1="163.9" x2="129.425" y2="164.9" stroke="#555" stroke-width="0.4" />
<text x="129.425" y="167.20000000000002" font-size="2.0" text-anchor="middle" font-weight="normal" font-style="normal" fill="#777" >10</text>
<line x1="99.2" y1="137.45000000000002" x2="100.2" y2="137.45000000000002" stroke="#555" stroke-width="0.4" />
<text x="98.9" y="138.15" font-size="2.0" text-anchor="end" font-weight="normal" font-style="normal" fill="#777" >10</text>
<line x1="139.0" y1="163.9" x2="139.0" y2="164.9" stroke="#555" stroke-width="0.4" />
<text x="139.0" y="167.20000000000002" font-size="2.0" text-anchor="middle" font-weight="normal" font-style="normal" fill="#777" >10</text>
<line x1="99.2" y1="128.8" x2="100.2" y2="128.8" stroke="#555" stroke-width="0.4" />
<text x="98.9" y="129.5" font-size="2.0" text-anchor="end" font-weight="normal" font-style="normal" fill="#777" >10</text>
<path d="M112.8,145.2 L112.8,129 L131.2,129 L131.2,163.9 M118.4,129 L118.4,163.9 M112.8,145.2 L131.2,145.2 M118.4,149.2 L131.2,149.2" fill="none" stroke="#c22a46" stroke-width="1.05"/>
<g clip-path="url(#cB3)">
<path d="M46,209 L46,184 Q52,178 58,188 L62,209 Z" fill="#b8c0f4" filter="url(#bl1)"/>
<path d="M46,209 L46,185 Q49.5,180 53.5,183 Q55,195 55,209 Z" fill="#2a3ce4" filter="url(#bl05)"/>
<ellipse cx="47.9" cy="201.5" rx="2" ry="8.5" fill="#48c8b0" filter="url(#bl05)"/>
<ellipse cx="47.7" cy="204.5" rx="1.2" ry="5" fill="#a8e040" filter="url(#bl05)"/>
<path d="M61.5,209 L62,185 Q63,176 67,176.5 Q71,178 72,188 L73.5,209 Z" fill="#a8b2f2" filter="url(#bl1)"/>
<ellipse cx="65.8" cy="181.5" rx="3.4" ry="4.8" fill="#2236dc" filter="url(#bl05)"/>
<path d="M62.5,209 L62.8,192 Q64,188 66,190 L68.5,209 Z" fill="#2a3ce4" filter="url(#bl05)"/>
<rect x="46" y="169" width="40" height="41" filter="url(#wnoise)" opacity="0.4"/>
</g>
<rect x="46.4" y="169.2" width="39.00000000000001" height="40.0" fill="none" stroke="#999" stroke-width="0.6" />
<line x1="46.4" y1="169.2" x2="46.4" y2="209.2" stroke="#555" stroke-width="0.6" />
<line x1="46.4" y1="209.2" x2="85.4" y2="209.2" stroke="#555" stroke-width="0.6" />
<line x1="46.9" y1="209.2" x2="46.9" y2="210.2" stroke="#555" stroke-width="0.4" />
<text x="46.9" y="212.5" font-size="2.0" text-anchor="middle" font-weight="normal" font-style="normal" fill="#777" >10</text>
<line x1="45.4" y1="208.7" x2="46.4" y2="208.7" stroke="#555" stroke-width="0.4" />
<text x="45.1" y="209.39999999999998" font-size="2.0" text-anchor="end" font-weight="normal" font-style="normal" fill="#777" >10</text>
<line x1="56.4" y1="209.2" x2="56.4" y2="210.2" stroke="#555" stroke-width="0.4" />
<text x="56.4" y="212.5" font-size="2.0" text-anchor="middle" font-weight="normal" font-style="normal" fill="#777" >10</text>
<line x1="45.4" y1="198.95" x2="46.4" y2="198.95" stroke="#555" stroke-width="0.4" />
<text x="45.1" y="199.64999999999998" font-size="2.0" text-anchor="end" font-weight="normal" font-style="normal" fill="#777" >10</text>
<line x1="65.9" y1="209.2" x2="65.9" y2="210.2" stroke="#555" stroke-width="0.4" />
<text x="65.9" y="212.5" font-size="2.0" text-anchor="middle" font-weight="normal" font-style="normal" fill="#777" >10</text>
<line x1="45.4" y1="189.2" x2="46.4" y2="189.2" stroke="#555" stroke-width="0.4" />
<text x="45.1" y="189.89999999999998" font-size="2.0" text-anchor="end" font-weight="normal" font-style="normal" fill="#777" >10</text>
<line x1="75.4" y1="209.2" x2="75.4" y2="210.2" stroke="#555" stroke-width="0.4" />
<text x="75.4" y="212.5" font-size="2.0" text-anchor="middle" font-weight="normal" font-style="normal" fill="#777" >10</text>
<line x1="45.4" y1="179.45" x2="46.4" y2="179.45" stroke="#555" stroke-width="0.4" />
<text x="45.1" y="180.14999999999998" font-size="2.0" text-anchor="end" font-weight="normal" font-style="normal" fill="#777" >10</text>
<line x1="84.9" y1="209.2" x2="84.9" y2="210.2" stroke="#555" stroke-width="0.4" />
<text x="84.9" y="212.5" font-size="2.0" text-anchor="middle" font-weight="normal" font-style="normal" fill="#777" >10</text>
<line x1="45.4" y1="169.7" x2="46.4" y2="169.7" stroke="#555" stroke-width="0.4" />
<text x="45.1" y="170.39999999999998" font-size="2.0" text-anchor="end" font-weight="normal" font-style="normal" fill="#777" >10</text>
<path d="M55.7,190.1 L55.7,174.3 L74.4,174.3 L74.4,209.2 M61.3,174.3 L61.3,209.2 M55.7,190.1 L74.4,190.1 M61.3,194.2 L74.4,194.2" fill="none" stroke="#c22a46" stroke-width="1.05"/>
<g clip-path="url(#cB4)">
<path d="M100,209 L100,180 Q106,175 112,180 L113,209 Z" fill="#2c3ee4" filter="url(#bl1)"/>
<ellipse cx="101.8" cy="202" rx="1.8" ry="7" fill="#50c0d0" filter="url(#bl05)"/>
<path d="M108,182 Q110,176.5 127.5,174.3 L122.5,193 L124,209 L112.5,209 L113,194 L111,190 Z" fill="#3048e6" filter="url(#bl05)"/>
<path d="M112.8,181 Q116,177.5 124.5,176.5 L121,193 L116,193 Z" fill="#60c8e0" filter="url(#bl05)"/>
<path d="M114.5,181.5 L122,180 L119.5,192.5 L117,192.5 Z" fill="#a4e04a" filter="url(#bl05)"/>
<path d="M115.5,209 Q116,200 118.3,196 Q120.6,200 121.2,209 Z" fill="#70d8a0" filter="url(#bl05)"/>
<path d="M116.8,209 Q117.2,203 118.3,200 Q119.4,203 119.8,209 Z" fill="#b0e050" filter="url(#bl05)"/>
<rect x="100" y="169" width="40" height="41" filter="url(#wnoise)" opacity="0.4"/>
</g>
<rect x="100.2" y="169.2" width="39.499999999999986" height="40.0" fill="none" stroke="#999" stroke-width="0.6" />
<line x1="100.2" y1="169.2" x2="100.2" y2="209.2" stroke="#555" stroke-width="0.6" />
<line x1="100.2" y1="209.2" x2="139.7" y2="209.2" stroke="#555" stroke-width="0.6" />
<line x1="100.7" y1="209.2" x2="100.7" y2="210.2" stroke="#555" stroke-width="0.4" />
<text x="100.7" y="212.5" font-size="2.0" text-anchor="middle" font-weight="normal" font-style="normal" fill="#777" >10</text>
<line x1="99.2" y1="208.7" x2="100.2" y2="208.7" stroke="#555" stroke-width="0.4" />
<text x="98.9" y="209.39999999999998" font-size="2.0" text-anchor="end" font-weight="normal" font-style="normal" fill="#777" >10</text>
<line x1="110.325" y1="209.2" x2="110.325" y2="210.2" stroke="#555" stroke-width="0.4" />
<text x="110.325" y="212.5" font-size="2.0" text-anchor="middle" font-weight="normal" font-style="normal" fill="#777" >10</text>
<line x1="99.2" y1="198.95" x2="100.2" y2="198.95" stroke="#555" stroke-width="0.4" />
<text x="98.9" y="199.64999999999998" font-size="2.0" text-anchor="end" font-weight="normal" font-style="normal" fill="#777" >10</text>
<line x1="119.94999999999999" y1="209.2" x2="119.94999999999999" y2="210.2" stroke="#555" stroke-width="0.4" />
<text x="119.94999999999999" y="212.5" font-size="2.0" text-anchor="middle" font-weight="normal" font-style="normal" fill="#777" >10</text>
<line x1="99.2" y1="189.2" x2="100.2" y2="189.2" stroke="#555" stroke-width="0.4" />
<text x="98.9" y="189.89999999999998" font-size="2.0" text-anchor="end" font-weight="normal" font-style="normal" fill="#777" >10</text>
<line x1="129.575" y1="209.2" x2="129.575" y2="210.2" stroke="#555" stroke-width="0.4" />
<text x="129.575" y="212.5" font-size="2.0" text-anchor="middle" font-weight="normal" font-style="normal" fill="#777" >10</text>
<line x1="99.2" y1="179.45" x2="100.2" y2="179.45" stroke="#555" stroke-width="0.4" />
<text x="98.9" y="180.14999999999998" font-size="2.0" text-anchor="end" font-weight="normal" font-style="normal" fill="#777" >10</text>
<line x1="139.2" y1="209.2" x2="139.2" y2="210.2" stroke="#555" stroke-width="0.4" />
<text x="139.2" y="212.5" font-size="2.0" text-anchor="middle" font-weight="normal" font-style="normal" fill="#777" >10</text>
<line x1="99.2" y1="169.7" x2="100.2" y2="169.7" stroke="#555" stroke-width="0.4" />
<text x="98.9" y="170.39999999999998" font-size="2.0" text-anchor="end" font-weight="normal" font-style="normal" fill="#777" >10</text>
<path d="M107.2,190.4 L107.2,174.3 L126,174.3 L126,209.2 M112.8,174.3 L112.8,209.2 M107.2,190.4 L126,190.4 M112.8,194.2 L126,194.2" fill="none" stroke="#c22a46" stroke-width="1.05"/>
<text x="81.2" y="135.8" font-size="3.6" text-anchor="middle" font-weight="normal" font-style="normal" fill="#444" stroke="#444" stroke-width="0.12" >II</text>
<text x="81.2" y="148.8" font-size="3.6" text-anchor="middle" font-weight="normal" font-style="normal" fill="#444" stroke="#444" stroke-width="0.12" >III</text>
<text x="81.2" y="159.2" font-size="3.6" text-anchor="middle" font-weight="normal" font-style="normal" fill="#444" stroke="#444" stroke-width="0.12" >IV</text>
<text x="135" y="135.8" font-size="3.6" text-anchor="middle" font-weight="normal" font-style="normal" fill="#444" stroke="#444" stroke-width="0.12" >II</text>
<text x="135" y="148.8" font-size="3.6" text-anchor="middle" font-weight="normal" font-style="normal" fill="#444" stroke="#444" stroke-width="0.12" >III</text>
<text x="135" y="159.2" font-size="3.6" text-anchor="middle" font-weight="normal" font-style="normal" fill="#444" stroke="#444" stroke-width="0.12" >IV</text>
<line x1="62.6" y1="124.8" x2="62.6" y2="127.6" stroke="#444" stroke-width="0.5" />
<line x1="115.6" y1="124.8" x2="115.6" y2="127.6" stroke="#444" stroke-width="0.5" />
<text x="65" y="122.3" font-size="6.3" text-anchor="middle" font-weight="normal" font-style="normal" fill="#111" stroke="#111" stroke-width="0.22" >BM</text>
<text x="120.3" y="122.3" font-size="6.3" text-anchor="middle" font-weight="normal" font-style="normal" fill="#111" stroke="#111" stroke-width="0.22" >spleen</text>
<text x="17.8" y="148.7" font-size="6.4" text-anchor="middle" font-weight="normal" font-style="normal" fill="#111" stroke="#111" stroke-width="0.22" >WT</text>
<text x="18" y="190.2" font-size="6.6" text-anchor="middle" font-weight="normal" font-style="italic" fill="#111" stroke="#111" stroke-width="0.22" >SclCre<tspan font-size="4.2" dy="-2.4">ER</tspan></text>
<text x="17.6" y="198.4" font-size="6.5" text-anchor="middle" font-weight="normal" font-style="italic" fill="#111" stroke="#111" stroke-width="0.22" >V617F</text>
<text x="18" y="205.2" font-size="6.6" text-anchor="middle" font-weight="normal" font-style="italic" fill="#111" stroke="#111" stroke-width="0.22" >Stat1<tspan font-size="4.4" dy="-2.4">+/+</tspan></text>
<line x1="36.4" y1="160" x2="36.4" y2="136.5" stroke="#222" stroke-width="0.7" />
<path d="M34.8,137.5 L36.4,133.6 L38,137.5 Z" fill="#222"/>
<text x="0" y="0" font-size="6.3" text-anchor="middle" font-weight="normal" font-style="normal" fill="#111" stroke="#111" stroke-width="0.22" transform="translate(38.6,171.7) rotate(-90)">CD71</text>
<line x1="36.4" y1="185" x2="36.4" y2="214.2" stroke="#222" stroke-width="0.7" />
<line x1="45" y1="220.3" x2="73.5" y2="220.3" stroke="#222" stroke-width="0.7" />
<text x="88.3" y="222.6" font-size="6.3" text-anchor="middle" font-weight="normal" font-style="normal" fill="#111" stroke="#111" stroke-width="0.22" >Ter119</text>
<line x1="102.4" y1="220.3" x2="124" y2="220.3" stroke="#222" stroke-width="0.7" />
<path d="M123.5,218.7 L127.4,220.3 L123.5,221.9 Z" fill="#222"/>
<text x="204.6" y="124.7" font-size="6.5" text-anchor="middle" font-weight="normal" font-style="normal" fill="#111" stroke="#111" stroke-width="0.22" >% region II cells BM</text>
<line x1="167.4" y1="135.4" x2="167.4" y2="186.2" stroke="#222" stroke-width="0.8" />
<line x1="167.4" y1="186.2" x2="245.1" y2="186.2" stroke="#222" stroke-width="0.8" />
<line x1="166.0" y1="135.5" x2="167.4" y2="135.5" stroke="#222" stroke-width="0.7" />
<text x="165.70000000000002" y="137.3" font-size="5.0" text-anchor="end" font-weight="normal" font-style="normal" fill="#333" stroke="#333" stroke-width="0.12" >36</text>
<line x1="166.0" y1="160.5" x2="167.4" y2="160.5" stroke="#222" stroke-width="0.7" />
<text x="165.70000000000002" y="162.3" font-size="5.0" text-anchor="end" font-weight="normal" font-style="normal" fill="#333" stroke="#333" stroke-width="0.12" >18</text>
<line x1="166.0" y1="185.5" x2="167.4" y2="185.5" stroke="#222" stroke-width="0.7" />
<text x="165.70000000000002" y="187.3" font-size="5.0" text-anchor="end" font-weight="normal" font-style="normal" fill="#333" stroke="#333" stroke-width="0.12" >0</text>
<rect x="169.70000000000002" y="168.4" width="10.499999999999982" height="17.79999999999999" fill="#ffffff" stroke="#444444" stroke-width="0.85" />
<line x1="174.95" y1="167.2" x2="174.95" y2="168" stroke="#444" stroke-width="0.7" />
<line x1="172.35" y1="167.2" x2="177.54999999999998" y2="167.2" stroke="#444" stroke-width="0.7" />
<rect x="185.8" y="166.1" width="9.999999999999982" height="20.1" fill="#9fcbf0" stroke="#3a70a8" stroke-width="0.85" />
<line x1="190.8" y1="162.7" x2="190.8" y2="165.7" stroke="#2d5a8a" stroke-width="0.7" />
<line x1="188.20000000000002" y1="162.7" x2="193.4" y2="162.7" stroke="#2d5a8a" stroke-width="0.7" />
<rect x="201.1" y="185.8" width="10.00000000000001" height="0.3999999999999829" fill="#060606" stroke="#000000" stroke-width="0.85" />
<rect x="216.4" y="185.8" width="10.399999999999988" height="0.3999999999999829" fill="#6ca03e" stroke="#355c1c" stroke-width="0.85" />
<rect x="232.1" y="185.0" width="10.400000000000016" height="1.1999999999999944" fill="#d63a28" stroke="#8e2416" stroke-width="0.85" />
<text x="174.95" y="194.8" font-size="5.8" text-anchor="middle" font-weight="normal" font-style="normal" fill="#111" stroke="#111" stroke-width="0.22" >+/+</text>
<text x="190.8" y="194.8" font-size="5.8" text-anchor="middle" font-weight="normal" font-style="normal" fill="#111" stroke="#111" stroke-width="0.22" >-/-</text>
<text x="206.1" y="194.8" font-size="5.8" text-anchor="middle" font-weight="normal" font-style="normal" fill="#111" stroke="#111" stroke-width="0.22" >+/+</text>
<text x="221.6" y="194.8" font-size="5.8" text-anchor="middle" font-weight="normal" font-style="normal" fill="#111" stroke="#111" stroke-width="0.22" >+/-</text>
<text x="237.3" y="194.8" font-size="5.8" text-anchor="middle" font-weight="normal" font-style="normal" fill="#111" stroke="#111" stroke-width="0.22" >-/-</text>
<text x="167.4" y="194.9" font-size="6.4" text-anchor="end" font-weight="normal" font-style="italic" fill="#111" stroke="#111" stroke-width="0.22" >Stat1</text>
<line x1="200.7" y1="197.6" x2="244.4" y2="197.6" stroke="#444" stroke-width="0.8" />
<text x="224" y="205.1" font-size="6.2" text-anchor="middle" font-weight="normal" font-style="italic" fill="#111" stroke="#111" stroke-width="0.22" >SclCre<tspan font-size="4.2" dy="-2.3">ER</tspan><tspan dy="2.3">;V617F</tspan></text>
<line x1="174.2" y1="158.2" x2="209.2" y2="158.2" stroke="#222" stroke-width="0.8" />
<circle cx="187.20" cy="153.5" r="1.05" fill="#111"/>
<circle cx="191.00" cy="153.5" r="1.05" fill="#111"/>
<circle cx="194.80" cy="153.5" r="1.05" fill="#111"/>
<text x="297.8" y="124.7" font-size="6.5" text-anchor="middle" font-weight="normal" font-style="normal" fill="#111" stroke="#111" stroke-width="0.22" >% region II cells spleen</text>
<line x1="263.5" y1="136.2" x2="263.5" y2="186.2" stroke="#222" stroke-width="0.8" />
<line x1="263.5" y1="186.2" x2="337.7" y2="186.2" stroke="#222" stroke-width="0.8" />
<line x1="262.1" y1="136.2" x2="263.5" y2="136.2" stroke="#222" stroke-width="0.7" />
<text x="261.8" y="138.0" font-size="5.0" text-anchor="end" font-weight="normal" font-style="normal" fill="#333" stroke="#333" stroke-width="0.12" >36</text>
<line x1="262.1" y1="160.6" x2="263.5" y2="160.6" stroke="#222" stroke-width="0.7" />
<text x="261.8" y="162.4" font-size="5.0" text-anchor="end" font-weight="normal" font-style="normal" fill="#333" stroke="#333" stroke-width="0.12" >18</text>
<line x1="262.1" y1="185.0" x2="263.5" y2="185.0" stroke="#222" stroke-width="0.7" />
<text x="261.8" y="186.8" font-size="5.0" text-anchor="end" font-weight="normal" font-style="normal" fill="#333" stroke="#333" stroke-width="0.12" >0</text>
<rect x="265.7" y="182.1" width="9.599999999999977" height="4.1" fill="#ffffff" stroke="#444444" stroke-width="0.85" />
<line x1="270.5" y1="181" x2="270.5" y2="181.7" stroke="#444" stroke-width="0.7" />
<line x1="267.9" y1="181" x2="273.1" y2="181" stroke="#444" stroke-width="0.7" />
<rect x="280.4" y="177.0" width="9.899999999999988" height="9.199999999999994" fill="#9fcbf0" stroke="#3a70a8" stroke-width="0.85" />
<line x1="285.35" y1="176" x2="285.35" y2="176.6" stroke="#2d5a8a" stroke-width="0.7" />
<line x1="282.75" y1="176" x2="287.95000000000005" y2="176" stroke="#2d5a8a" stroke-width="0.7" />
<rect x="296.09999999999997" y="172.6" width="9.00000000000001" height="13.6" fill="#060606" stroke="#000000" stroke-width="0.85" />
<line x1="300.6" y1="168" x2="300.6" y2="172.2" stroke="#000" stroke-width="0.7" />
<line x1="298.0" y1="168" x2="303.20000000000005" y2="168" stroke="#000" stroke-width="0.7" />
<rect x="310.7" y="170.6" width="9.599999999999977" height="15.6" fill="#6ca03e" stroke="#355c1c" stroke-width="0.85" />
<line x1="315.5" y1="167.2" x2="315.5" y2="174" stroke="#2f4f18" stroke-width="0.7" />
<line x1="312.9" y1="167.2" x2="318.1" y2="167.2" stroke="#2f4f18" stroke-width="0.7" />
<line x1="312.9" y1="174" x2="318.1" y2="174" stroke="#2f4f18" stroke-width="0.7" />
<rect x="326.09999999999997" y="151.1" width="9.2" height="35.1" fill="#d63a28" stroke="#8e2416" stroke-width="0.85" />
<line x1="330.7" y1="141.1" x2="330.7" y2="160.3" stroke="#5a2a22" stroke-width="0.7" />
<line x1="328.09999999999997" y1="141.1" x2="333.3" y2="141.1" stroke="#5a2a22" stroke-width="0.7" />
<line x1="328.09999999999997" y1="160.3" x2="333.3" y2="160.3" stroke="#5a2a22" stroke-width="0.7" />
<text x="270.5" y="194.8" font-size="5.8" text-anchor="middle" font-weight="normal" font-style="normal" fill="#111" stroke="#111" stroke-width="0.22" >+/+</text>
<text x="285.35" y="194.8" font-size="5.8" text-anchor="middle" font-weight="normal" font-style="normal" fill="#111" stroke="#111" stroke-width="0.22" >-/-</text>
<text x="300.6" y="194.8" font-size="5.8" text-anchor="middle" font-weight="normal" font-style="normal" fill="#111" stroke="#111" stroke-width="0.22" >+/+</text>
<text x="315.5" y="194.8" font-size="5.8" text-anchor="middle" font-weight="normal" font-style="normal" fill="#111" stroke="#111" stroke-width="0.22" >+/-</text>
<text x="330.7" y="194.8" font-size="5.8" text-anchor="middle" font-weight="normal" font-style="normal" fill="#111" stroke="#111" stroke-width="0.22" >-/-</text>
<line x1="293.4" y1="197.1" x2="337.7" y2="197.1" stroke="#444" stroke-width="0.8" />
<text x="316.4" y="205.3" font-size="6.2" text-anchor="middle" font-weight="normal" font-style="italic" fill="#111" stroke="#111" stroke-width="0.22" >SclCre<tspan font-size="4.2" dy="-2.3">ER</tspan><tspan dy="2.3">;V617F</tspan></text>
<line x1="269.5" y1="164.7" x2="301.6" y2="164.7" stroke="#222" stroke-width="0.8" />
<circle cx="284.70" cy="160.3" r="1.05" fill="#111"/>
<text x="391.4" y="110.7" font-size="6.3" text-anchor="middle" font-weight="normal" font-style="normal" fill="#111" stroke="#111" stroke-width="0.22" >BFU-E</text>
<text x="392.2" y="119" font-size="6.3" text-anchor="middle" font-weight="normal" font-style="normal" fill="#111" stroke="#111" stroke-width="0.22" >per 3x10<tspan font-size="4.2" dy="-2.3">4</tspan><tspan dy="2.3"> BM cells</tspan></text>
<line x1="351.2" y1="136.5" x2="351.2" y2="186.3" stroke="#222" stroke-width="0.8" />
<line x1="351.2" y1="186.3" x2="423.4" y2="186.3" stroke="#222" stroke-width="0.8" />
<line x1="349.8" y1="137.25" x2="351.2" y2="137.25" stroke="#222" stroke-width="0.7" />
<text x="349.5" y="138.978" font-size="4.8" text-anchor="end" font-weight="normal" font-style="normal" fill="#333" stroke="#333" stroke-width="0.12" >30</text>
<line x1="349.8" y1="153.5" x2="351.2" y2="153.5" stroke="#222" stroke-width="0.7" />
<text x="349.5" y="155.228" font-size="4.8" text-anchor="end" font-weight="normal" font-style="normal" fill="#333" stroke="#333" stroke-width="0.12" >20</text>
<line x1="349.8" y1="169.75" x2="351.2" y2="169.75" stroke="#222" stroke-width="0.7" />
<text x="349.5" y="171.478" font-size="4.8" text-anchor="end" font-weight="normal" font-style="normal" fill="#333" stroke="#333" stroke-width="0.12" >10</text>
<line x1="349.8" y1="186.0" x2="351.2" y2="186.0" stroke="#222" stroke-width="0.7" />
<text x="349.5" y="187.728" font-size="4.8" text-anchor="end" font-weight="normal" font-style="normal" fill="#333" stroke="#333" stroke-width="0.12" >0</text>
<rect x="353.59999999999997" y="167.6" width="9.300000000000022" height="18.700000000000024" fill="#ffffff" stroke="#444444" stroke-width="0.85" />
<line x1="358.25" y1="166" x2="358.25" y2="167.2" stroke="#444" stroke-width="0.7" />
<line x1="355.65" y1="166" x2="360.85" y2="166" stroke="#444" stroke-width="0.7" />
<rect x="368.2" y="154.20000000000002" width="9.00000000000001" height="32.1" fill="#9fcbf0" stroke="#3a70a8" stroke-width="0.85" />
<line x1="372.70000000000005" y1="144.2" x2="372.70000000000005" y2="163.2" stroke="#2d5a8a" stroke-width="0.7" />
<line x1="370.1" y1="144.2" x2="375.30000000000007" y2="144.2" stroke="#2d5a8a" stroke-width="0.7" />
<line x1="370.1" y1="163.2" x2="375.30000000000007" y2="163.2" stroke="#2d5a8a" stroke-width="0.7" />
<rect x="382.5" y="167.8" width="8.799999999999965" height="18.500000000000007" fill="#060606" stroke="#000000" stroke-width="0.85" />
<line x1="386.9" y1="166" x2="386.9" y2="167.4" stroke="#000" stroke-width="0.7" />
<line x1="384.29999999999995" y1="166" x2="389.5" y2="166" stroke="#000" stroke-width="0.7" />
<rect x="397.0" y="164.4" width="9.299999999999965" height="21.900000000000013" fill="#6ca03e" stroke="#355c1c" stroke-width="0.85" />
<line x1="401.65" y1="154.2" x2="401.65" y2="174.1" stroke="#2f4f18" stroke-width="0.7" />
<line x1="399.04999999999995" y1="154.2" x2="404.25" y2="154.2" stroke="#2f4f18" stroke-width="0.7" />
<line x1="399.04999999999995" y1="174.1" x2="404.25" y2="174.1" stroke="#2f4f18" stroke-width="0.7" />
<rect x="411.59999999999997" y="150.6" width="9.2" height="35.700000000000024" fill="#d63a28" stroke="#8e2416" stroke-width="0.85" />
<line x1="416.2" y1="142.7" x2="416.2" y2="156.2" stroke="#5a2a22" stroke-width="0.7" />
<line x1="413.59999999999997" y1="142.7" x2="418.8" y2="142.7" stroke="#5a2a22" stroke-width="0.7" />
<line x1="413.59999999999997" y1="156.2" x2="418.8" y2="156.2" stroke="#5a2a22" stroke-width="0.7" />
<text x="358.25" y="194.6" font-size="5.8" text-anchor="middle" font-weight="normal" font-style="normal" fill="#111" stroke="#111" stroke-width="0.22" >+/+</text>
<text x="372.70000000000005" y="194.6" font-size="5.8" text-anchor="middle" font-weight="normal" font-style="normal" fill="#111" stroke="#111" stroke-width="0.22" >-/-</text>
<text x="386.9" y="194.6" font-size="5.8" text-anchor="middle" font-weight="normal" font-style="normal" fill="#111" stroke="#111" stroke-width="0.22" >+/+</text>
<text x="401.65" y="194.6" font-size="5.8" text-anchor="middle" font-weight="normal" font-style="normal" fill="#111" stroke="#111" stroke-width="0.22" >+/-</text>
<text x="416.2" y="194.6" font-size="5.8" text-anchor="middle" font-weight="normal" font-style="normal" fill="#111" stroke="#111" stroke-width="0.22" >-/-</text>
<line x1="382.4" y1="197.3" x2="427.4" y2="197.3" stroke="#444" stroke-width="0.8" />
<text x="404.5" y="205.6" font-size="6.2" text-anchor="middle" font-weight="normal" font-style="italic" fill="#111" stroke="#111" stroke-width="0.22" >SclCre<tspan font-size="4.2" dy="-2.3">ER</tspan><tspan dy="2.3">;V617F</tspan></text>
<line x1="386" y1="135.1" x2="417.1" y2="135.1" stroke="#222" stroke-width="0.8" />
<circle cx="402.20" cy="130.9" r="1.05" fill="#111"/>
<text x="480" y="110.7" font-size="6.3" text-anchor="middle" font-weight="normal" font-style="normal" fill="#111" stroke="#111" stroke-width="0.22" >BFU-E</text>
<text x="480.8" y="119" font-size="6.3" text-anchor="middle" font-weight="normal" font-style="normal" fill="#111" stroke="#111" stroke-width="0.22" >per 3x10<tspan font-size="4.2" dy="-2.3">4</tspan><tspan dy="2.3"> spleen cells</tspan></text>
<line x1="442.6" y1="134.5" x2="442.6" y2="183.7" stroke="#222" stroke-width="0.8" />
<line x1="442.6" y1="183.7" x2="514.1" y2="183.7" stroke="#222" stroke-width="0.8" />
<line x1="441.20000000000005" y1="134.81" x2="442.6" y2="134.81" stroke="#222" stroke-width="0.7" />
<text x="440.90000000000003" y="136.466" font-size="4.6" text-anchor="end" font-weight="normal" font-style="normal" fill="#333" stroke="#333" stroke-width="0.12" >150</text>
<line x1="441.20000000000005" y1="151.04" x2="442.6" y2="151.04" stroke="#222" stroke-width="0.7" />
<text x="440.90000000000003" y="152.696" font-size="4.6" text-anchor="end" font-weight="normal" font-style="normal" fill="#333" stroke="#333" stroke-width="0.12" >100</text>
<line x1="441.20000000000005" y1="167.27" x2="442.6" y2="167.27" stroke="#222" stroke-width="0.7" />
<text x="440.90000000000003" y="168.92600000000002" font-size="4.6" text-anchor="end" font-weight="normal" font-style="normal" fill="#333" stroke="#333" stroke-width="0.12" >50</text>
<line x1="441.20000000000005" y1="183.5" x2="442.6" y2="183.5" stroke="#222" stroke-width="0.7" />
<text x="440.90000000000003" y="185.156" font-size="4.6" text-anchor="end" font-weight="normal" font-style="normal" fill="#333" stroke="#333" stroke-width="0.12" >0</text>
<rect x="445.59999999999997" y="179.6" width="8.7" height="4.1" fill="#ffffff" stroke="#444444" stroke-width="0.85" />
<line x1="449.95" y1="178.5" x2="449.95" y2="179.2" stroke="#444" stroke-width="0.7" />
<line x1="447.34999999999997" y1="178.5" x2="452.55" y2="178.5" stroke="#444" stroke-width="0.7" />
<rect x="459.59999999999997" y="182.6" width="8.399999999999988" height="1.1" fill="#ffffff" stroke="#444444" stroke-width="0.85" />
<line x1="463.79999999999995" y1="181.4" x2="463.79999999999995" y2="183" stroke="#444" stroke-width="0.7" />
<line x1="461.19999999999993" y1="181.4" x2="466.4" y2="181.4" stroke="#444" stroke-width="0.7" />
<line x1="461.19999999999993" y1="183" x2="466.4" y2="183" stroke="#444" stroke-width="0.7" />
<rect x="474.09999999999997" y="170.6" width="8.899999999999988" height="13.1" fill="#060606" stroke="#000000" stroke-width="0.85" />
<line x1="478.54999999999995" y1="168" x2="478.54999999999995" y2="170.2" stroke="#000" stroke-width="0.7" />
<line x1="475.94999999999993" y1="168" x2="481.15" y2="168" stroke="#000" stroke-width="0.7" />
<rect x="488.0" y="166.1" width="9.2" height="17.6" fill="#6ca03e" stroke="#355c1c" stroke-width="0.85" />
<line x1="492.6" y1="161.6" x2="492.6" y2="170.2" stroke="#2f4f18" stroke-width="0.7" />
<line x1="490.0" y1="161.6" x2="495.20000000000005" y2="161.6" stroke="#2f4f18" stroke-width="0.7" />
<line x1="490.0" y1="170.2" x2="495.20000000000005" y2="170.2" stroke="#2f4f18" stroke-width="0.7" />
<rect x="502.59999999999997" y="154.6" width="8.899999999999988" height="29.1" fill="#d63a28" stroke="#8e2416" stroke-width="0.85" />
<line x1="507.04999999999995" y1="149.7" x2="507.04999999999995" y2="159.2" stroke="#5a2a22" stroke-width="0.7" />
<line x1="504.44999999999993" y1="149.7" x2="509.65" y2="149.7" stroke="#5a2a22" stroke-width="0.7" />
<line x1="504.44999999999993" y1="159.2" x2="509.65" y2="159.2" stroke="#5a2a22" stroke-width="0.7" />
<text x="449.95" y="193.7" font-size="5.8" text-anchor="middle" font-weight="normal" font-style="normal" fill="#111" stroke="#111" stroke-width="0.22" >+/+</text>
<text x="463.79999999999995" y="193.7" font-size="5.8" text-anchor="middle" font-weight="normal" font-style="normal" fill="#111" stroke="#111" stroke-width="0.22" >-/-</text>
<text x="478.54999999999995" y="193.7" font-size="5.8" text-anchor="middle" font-weight="normal" font-style="normal" fill="#111" stroke="#111" stroke-width="0.22" >+/+</text>
<text x="492.6" y="193.7" font-size="5.8" text-anchor="middle" font-weight="normal" font-style="normal" fill="#111" stroke="#111" stroke-width="0.22" >+/-</text>
<text x="507.04999999999995" y="193.7" font-size="5.8" text-anchor="middle" font-weight="normal" font-style="normal" fill="#111" stroke="#111" stroke-width="0.22" >-/-</text>
<line x1="471.5" y1="196.6" x2="514.8" y2="196.6" stroke="#444" stroke-width="0.8" />
<text x="493.2" y="205.8" font-size="6.2" text-anchor="middle" font-weight="normal" font-style="italic" fill="#111" stroke="#111" stroke-width="0.22" >SclCre<tspan font-size="4.2" dy="-2.3">ER</tspan><tspan dy="2.3">;V617F</tspan></text>
<line x1="448.2" y1="162.4" x2="480.1" y2="162.4" stroke="#222" stroke-width="0.8" />
<circle cx="463.70" cy="157.8" r="1.05" fill="#111"/>
<line x1="476" y1="137.2" x2="506.6" y2="137.2" stroke="#222" stroke-width="0.8" />
<circle cx="491.00" cy="133.1" r="1.05" fill="#111"/>
<g clip-path="url(#cD1)">
<ellipse cx="40" cy="291" rx="20" ry="11" fill="#e6ebf2" filter="url(#bl2)"/>
<ellipse cx="25" cy="289" rx="5.5" ry="16" fill="#c4d0d8" filter="url(#bl1)"/>
<ellipse cx="25" cy="289" rx="5.5" ry="16" fill="#8aa0a8" filter="url(#speck)"/>
<ellipse cx="42" cy="277.5" rx="15" ry="3" fill="#a8bcbc" filter="url(#bl1)"/>
<ellipse cx="42" cy="277.5" rx="15" ry="3" fill="#6f8c8c" filter="url(#speck)"/>
<ellipse cx="38" cy="300" rx="17" ry="3.2" fill="#d0d8e0" filter="url(#bl1)"/>
<ellipse cx="38" cy="300" rx="17" ry="3.2" fill="#98a8b8" filter="url(#speck)"/>
<ellipse cx="24.5" cy="277.5" rx="4.6" ry="5" fill="#9cb07c" filter="url(#bl1)"/>
<ellipse cx="24" cy="278" rx="2.2" ry="2.6" fill="#c4b444" filter="url(#bl05)"/>
<ellipse cx="23" cy="301" rx="2.6" ry="2" fill="#8fae78" filter="url(#bl1)"/>
</g>
<rect x="14.2" y="256.4" width="54.7" height="54.60000000000002" fill="none" stroke="#9a9a9a" stroke-width="0.6" />
<line x1="14.2" y1="256.4" x2="14.2" y2="312" stroke="#555" stroke-width="0.7" />
<line x1="13.2" y1="311" x2="68.9" y2="311" stroke="#555" stroke-width="0.7" />
<rect x="18.4" y="270.8" width="12.3" height="13.7" fill="none" stroke="#3f7fc4" stroke-width="1.1"/>
<path d="M21,270.8 L21,261.7 L72,261.7" fill="none" stroke="#3f7fc4" stroke-width="1.3"/>
<path d="M70.3,257 L77.8,261.7 L70.3,266.6 L72.2,261.7 Z" fill="#3f7fc4"/>
<line x1="20.5" y1="311" x2="20.5" y2="312.2" stroke="#555" stroke-width="0.5" />
<text x="20.5" y="315.5" font-size="3.0" text-anchor="middle" font-weight="normal" font-style="normal" fill="#444" >0</text>
<line x1="13" y1="305.5" x2="14.2" y2="305.5" stroke="#555" stroke-width="0.5" />
<text x="12.5" y="306.4" font-size="3.0" text-anchor="end" font-weight="normal" font-style="normal" fill="#444" >0</text>
<line x1="32.3" y1="311" x2="32.3" y2="312.2" stroke="#555" stroke-width="0.5" />
<text x="32.3" y="315.5" font-size="3.0" text-anchor="middle" font-weight="normal" font-style="normal" fill="#444" >10²</text>
<line x1="13" y1="293.0" x2="14.2" y2="293.0" stroke="#555" stroke-width="0.5" />
<text x="12.5" y="293.9" font-size="3.0" text-anchor="end" font-weight="normal" font-style="normal" fill="#444" >10²</text>
<line x1="44.1" y1="311" x2="44.1" y2="312.2" stroke="#555" stroke-width="0.5" />
<text x="44.1" y="315.5" font-size="3.0" text-anchor="middle" font-weight="normal" font-style="normal" fill="#444" >10³</text>
<line x1="13" y1="280.5" x2="14.2" y2="280.5" stroke="#555" stroke-width="0.5" />
<text x="12.5" y="281.4" font-size="3.0" text-anchor="end" font-weight="normal" font-style="normal" fill="#444" >10³</text>
<line x1="55.900000000000006" y1="311" x2="55.900000000000006" y2="312.2" stroke="#555" stroke-width="0.5" />
<text x="55.900000000000006" y="315.5" font-size="3.0" text-anchor="middle" font-weight="normal" font-style="normal" fill="#444" >10⁴</text>
<line x1="13" y1="268.0" x2="14.2" y2="268.0" stroke="#555" stroke-width="0.5" />
<text x="12.5" y="268.9" font-size="3.0" text-anchor="end" font-weight="normal" font-style="normal" fill="#444" >10⁴</text>
<text x="43.8" y="322.9" font-size="6.2" text-anchor="middle" font-weight="normal" font-style="normal" fill="#111" stroke="#111" stroke-width="0.22" >Sca-1</text>
<text x="0" y="0" font-size="6.3" text-anchor="middle" font-weight="normal" font-style="normal" fill="#111" stroke="#111" stroke-width="0.22" transform="translate(8.5,280.1) rotate(-90)">c-kit</text>
<g clip-path="url(#cD2)">
<path d="M97.8,303 L98,288 Q99,283 103,283.5 Q107,285 107.5,292 L108,303 Z" fill="#8fb0e8" filter="url(#bl05)"/>
<path d="M98.6,302 L98.8,289 Q100,285.5 103,286 Q106,288 106.3,294 L106.5,302 Z" fill="#4f7fd8" filter="url(#bl05)"/>
<path d="M99.3,301 L99.6,290 Q101,287.5 103,288.5 Q104.5,291 104.5,296 L105,301 Z" fill="#5f9e70" filter="url(#bl05)"/>
<ellipse cx="101.8" cy="299.3" rx="2.8" ry="1.8" fill="#d8c030" filter="url(#bl05)"/>
<ellipse cx="104" cy="304" rx="7" ry="2" fill="#f8e8c0" filter="url(#bl1)"/>
<circle cx="115.5" cy="288" r="3.5" fill="none" stroke="#e0b8c8" stroke-width="0.5" stroke-dasharray="0.6 0.6"/>
<circle cx="115.5" cy="288" r="1.8" fill="none" stroke="#e0b8c8" stroke-width="0.5" stroke-dasharray="0.6 0.6"/>
</g>
<rect x="90.7" y="255.7" width="54.7" height="54.60000000000002" fill="none" stroke="#9a9a9a" stroke-width="0.6" />
<line x1="90.7" y1="255.7" x2="90.7" y2="311.3" stroke="#555" stroke-width="0.7" />
<line x1="89.7" y1="310.3" x2="145.4" y2="310.3" stroke="#555" stroke-width="0.7" />
<rect x="107.5" y="280.8" width="16" height="15.1" fill="none" stroke="#4c7cb8" stroke-width="0.95"/>
<line x1="96.8" y1="310.3" x2="96.8" y2="311.5" stroke="#555" stroke-width="0.5" />
<text x="96.8" y="315" font-size="3.0" text-anchor="middle" font-weight="normal" font-style="normal" fill="#444" >0</text>
<line x1="89.5" y1="304.3" x2="90.7" y2="304.3" stroke="#555" stroke-width="0.5" />
<text x="89" y="305.2" font-size="3.0" text-anchor="end" font-weight="normal" font-style="normal" fill="#444" >0</text>
<line x1="109.0" y1="310.3" x2="109.0" y2="311.5" stroke="#555" stroke-width="0.5" />
<text x="109.0" y="315" font-size="3.0" text-anchor="middle" font-weight="normal" font-style="normal" fill="#444" >10²</text>
<line x1="89.5" y1="292.25" x2="90.7" y2="292.25" stroke="#555" stroke-width="0.5" />
<text x="89" y="293.15" font-size="3.0" text-anchor="end" font-weight="normal" font-style="normal" fill="#444" >10²</text>
<line x1="121.19999999999999" y1="310.3" x2="121.19999999999999" y2="311.5" stroke="#555" stroke-width="0.5" />
<text x="121.19999999999999" y="315" font-size="3.0" text-anchor="middle" font-weight="normal" font-style="normal" fill="#444" >10³</text>
<line x1="89.5" y1="280.2" x2="90.7" y2="280.2" stroke="#555" stroke-width="0.5" />
<text x="89" y="281.09999999999997" font-size="3.0" text-anchor="end" font-weight="normal" font-style="normal" fill="#444" >10³</text>
<line x1="133.39999999999998" y1="310.3" x2="133.39999999999998" y2="311.5" stroke="#555" stroke-width="0.5" />
<text x="133.39999999999998" y="315" font-size="3.0" text-anchor="middle" font-weight="normal" font-style="normal" fill="#444" >10⁴</text>
<line x1="89.5" y1="268.15" x2="90.7" y2="268.15" stroke="#555" stroke-width="0.5" />
<text x="89" y="269.04999999999995" font-size="3.0" text-anchor="end" font-weight="normal" font-style="normal" fill="#444" >10⁴</text>
<text x="118.4" y="322.9" font-size="6.1" text-anchor="middle" font-weight="normal" font-style="normal" fill="#111" stroke="#111" stroke-width="0.22" >CD41</text>
<text x="0" y="0" font-size="6.4" text-anchor="middle" font-weight="normal" font-style="normal" fill="#111" stroke="#111" stroke-width="0.22" transform="translate(83.2,279.1) rotate(-90)">CD150</text>
<text x="249.3" y="249.7" font-size="6.4" text-anchor="middle" font-weight="normal" font-style="normal" fill="#111" stroke="#111" stroke-width="0.22" >% Lin<tspan font-size="4.2" dy="-2.3">-</tspan><tspan dy="2.3">/Sca1</tspan><tspan font-size="4.2" dy="-2.3">-</tspan><tspan dy="2.3">/c-Kit</tspan><tspan font-size="4.2" dy="-2.3">+</tspan><tspan dy="2.3">/CD150</tspan><tspan font-size="4.2" dy="-2.3">+</tspan><tspan dy="2.3">/CD41</tspan><tspan font-size="4.2" dy="-2.3">+</tspan><tspan dy="2.3"> progenitors</tspan></text>
<text x="203.3" y="259.5" font-size="6.3" text-anchor="middle" font-weight="normal" font-style="normal" fill="#111" stroke="#111" stroke-width="0.22" >BM</text>
<text x="294.3" y="259.7" font-size="6.3" text-anchor="middle" font-weight="normal" font-style="normal" fill="#111" stroke="#111" stroke-width="0.22" >spleen</text>
<line x1="166.8" y1="264" x2="166.8" y2="315.7" stroke="#222" stroke-width="0.8" />
<line x1="166.8" y1="315.7" x2="245.7" y2="315.7" stroke="#222" stroke-width="0.8" />
<line x1="165.4" y1="264.2" x2="166.8" y2="264.2" stroke="#222" stroke-width="0.7" />
<text x="165.10000000000002" y="266.108" font-size="5.3" text-anchor="end" font-weight="normal" font-style="normal" fill="#333" stroke="#333" stroke-width="0.12" >0.2</text>
<line x1="165.4" y1="289.75" x2="166.8" y2="289.75" stroke="#222" stroke-width="0.7" />
<text x="165.10000000000002" y="291.658" font-size="5.3" text-anchor="end" font-weight="normal" font-style="normal" fill="#333" stroke="#333" stroke-width="0.12" >0.1</text>
<line x1="165.4" y1="315.3" x2="166.8" y2="315.3" stroke="#222" stroke-width="0.7" />
<text x="165.10000000000002" y="317.208" font-size="5.3" text-anchor="end" font-weight="normal" font-style="normal" fill="#333" stroke="#333" stroke-width="0.12" >0</text>
<rect x="170.20000000000002" y="301.59999999999997" width="10.099999999999977" height="14.1" fill="#ffffff" stroke="#444444" stroke-width="0.85" />
<line x1="175.25" y1="299.3" x2="175.25" y2="303.1" stroke="#444" stroke-width="0.7" />
<line x1="172.65" y1="299.3" x2="177.85" y2="299.3" stroke="#444" stroke-width="0.7" />
<line x1="172.65" y1="303.1" x2="177.85" y2="303.1" stroke="#444" stroke-width="0.7" />
<rect x="186.0" y="297.59999999999997" width="10.299999999999994" height="18.1" fill="#9fcbf0" stroke="#3a70a8" stroke-width="0.85" />
<line x1="191.14999999999998" y1="294.5" x2="191.14999999999998" y2="300" stroke="#2d5a8a" stroke-width="0.7" />
<line x1="188.54999999999998" y1="294.5" x2="193.74999999999997" y2="294.5" stroke="#2d5a8a" stroke-width="0.7" />
<line x1="188.54999999999998" y1="300" x2="193.74999999999997" y2="300" stroke="#2d5a8a" stroke-width="0.7" />
<rect x="202.0" y="292.59999999999997" width="9.7" height="23.1" fill="#060606" stroke="#000000" stroke-width="0.85" />
<line x1="206.85" y1="287.7" x2="206.85" y2="292.2" stroke="#000" stroke-width="0.7" />
<line x1="204.25" y1="287.7" x2="209.45" y2="287.7" stroke="#000" stroke-width="0.7" />
<rect x="217.6" y="288.09999999999997" width="10.100000000000005" height="27.6" fill="#6ca03e" stroke="#355c1c" stroke-width="0.85" />
<line x1="222.64999999999998" y1="278.3" x2="222.64999999999998" y2="296.7" stroke="#2f4f18" stroke-width="0.7" />
<line x1="220.04999999999998" y1="278.3" x2="225.24999999999997" y2="278.3" stroke="#2f4f18" stroke-width="0.7" />
<line x1="220.04999999999998" y1="296.7" x2="225.24999999999997" y2="296.7" stroke="#2f4f18" stroke-width="0.7" />
<rect x="233.6" y="277.59999999999997" width="10.2" height="38.1" fill="#d63a28" stroke="#8e2416" stroke-width="0.85" />
<line x1="238.7" y1="267.2" x2="238.7" y2="287.3" stroke="#5a2a22" stroke-width="0.7" />
<line x1="236.1" y1="267.2" x2="241.29999999999998" y2="267.2" stroke="#5a2a22" stroke-width="0.7" />
<line x1="236.1" y1="287.3" x2="241.29999999999998" y2="287.3" stroke="#5a2a22" stroke-width="0.7" />
<text x="175.25" y="322.3" font-size="5.8" text-anchor="middle" font-weight="normal" font-style="normal" fill="#111" stroke="#111" stroke-width="0.22" >+/+</text>
<text x="191.14999999999998" y="322.3" font-size="5.8" text-anchor="middle" font-weight="normal" font-style="normal" fill="#111" stroke="#111" stroke-width="0.22" >-/-</text>
<text x="206.85" y="322.3" font-size="5.8" text-anchor="middle" font-weight="normal" font-style="normal" fill="#111" stroke="#111" stroke-width="0.22" >+/+</text>
<text x="222.64999999999998" y="322.3" font-size="5.8" text-anchor="middle" font-weight="normal" font-style="normal" fill="#111" stroke="#111" stroke-width="0.22" >+/-</text>
<text x="238.7" y="322.3" font-size="5.8" text-anchor="middle" font-weight="normal" font-style="normal" fill="#111" stroke="#111" stroke-width="0.22" >-/-</text>
<text x="164.4" y="322.4" font-size="6.4" text-anchor="end" font-weight="normal" font-style="italic" fill="#111" stroke="#111" stroke-width="0.22" >Stat1</text>
<line x1="199.7" y1="324.3" x2="243.1" y2="324.3" stroke="#444" stroke-width="0.8" />
<text x="221.4" y="330.1" font-size="6.2" text-anchor="middle" font-weight="normal" font-style="italic" fill="#111" stroke="#111" stroke-width="0.22" >SclCre<tspan font-size="4.2" dy="-2.3">ER</tspan><tspan dy="2.3">;V617F</tspan></text>
<line x1="174" y1="284.7" x2="204.6" y2="284.7" stroke="#222" stroke-width="0.8" />
<text x="189.1" y="282.4" font-size="4.8" text-anchor="middle" font-weight="normal" font-style="normal" fill="#111" stroke="#111" stroke-width="0.12" >p=0.0538</text>
<line x1="261.3" y1="264.4" x2="261.3" y2="315.7" stroke="#222" stroke-width="0.8" />
<line x1="261.3" y1="315.7" x2="336.9" y2="315.7" stroke="#222" stroke-width="0.8" />
<line x1="259.90000000000003" y1="264.59999999999997" x2="261.3" y2="264.59999999999997" stroke="#222" stroke-width="0.7" />
<text x="259.6" y="266.472" font-size="5.2" text-anchor="end" font-weight="normal" font-style="normal" fill="#333" stroke="#333" stroke-width="0.12" >0.70</text>
<line x1="259.90000000000003" y1="290.0" x2="261.3" y2="290.0" stroke="#222" stroke-width="0.7" />
<text x="259.6" y="291.872" font-size="5.2" text-anchor="end" font-weight="normal" font-style="normal" fill="#333" stroke="#333" stroke-width="0.12" >0.35</text>
<line x1="259.90000000000003" y1="315.4" x2="261.3" y2="315.4" stroke="#222" stroke-width="0.7" />
<text x="259.6" y="317.272" font-size="5.2" text-anchor="end" font-weight="normal" font-style="normal" fill="#333" stroke="#333" stroke-width="0.12" >0</text>
<rect x="264.7" y="315.7" width="10.099999999999977" height="-2.275957200481571e-14" fill="#ffffff" stroke="#444444" stroke-width="0.85" />
<rect x="279.4" y="315.4" width="9.899999999999988" height="0.2999999999999886" fill="#9fcbf0" stroke="#3a70a8" stroke-width="0.85" />
<rect x="295.5" y="299.4" width="9.2" height="16.29999999999999" fill="#060606" stroke="#000000" stroke-width="0.85" />
<line x1="300.1" y1="297.2" x2="300.1" y2="299" stroke="#000" stroke-width="0.7" />
<line x1="297.5" y1="297.2" x2="302.70000000000005" y2="297.2" stroke="#000" stroke-width="0.7" />
<rect x="310.59999999999997" y="292.09999999999997" width="9.399999999999988" height="23.6" fill="#6ca03e" stroke="#355c1c" stroke-width="0.85" />
<line x1="315.29999999999995" y1="288.6" x2="315.29999999999995" y2="294.5" stroke="#2f4f18" stroke-width="0.7" />
<line x1="312.69999999999993" y1="288.6" x2="317.9" y2="288.6" stroke="#2f4f18" stroke-width="0.7" />
<line x1="312.69999999999993" y1="294.5" x2="317.9" y2="294.5" stroke="#2f4f18" stroke-width="0.7" />
<rect x="326.09999999999997" y="288.0" width="9.00000000000001" height="27.699999999999967" fill="#d63a28" stroke="#8e2416" stroke-width="0.85" />
<line x1="330.6" y1="273.3" x2="330.6" y2="302.5" stroke="#5a2a22" stroke-width="0.7" />
<line x1="328.0" y1="273.3" x2="333.20000000000005" y2="273.3" stroke="#5a2a22" stroke-width="0.7" />
<line x1="328.0" y1="302.5" x2="333.20000000000005" y2="302.5" stroke="#5a2a22" stroke-width="0.7" />
<text x="269.75" y="322.3" font-size="5.8" text-anchor="middle" font-weight="normal" font-style="normal" fill="#111" stroke="#111" stroke-width="0.22" >+/+</text>
<text x="284.35" y="322.3" font-size="5.8" text-anchor="middle" font-weight="normal" font-style="normal" fill="#111" stroke="#111" stroke-width="0.22" >-/-</text>
<text x="300.1" y="322.3" font-size="5.8" text-anchor="middle" font-weight="normal" font-style="normal" fill="#111" stroke="#111" stroke-width="0.22" >+/+</text>
<text x="315.29999999999995" y="322.3" font-size="5.8" text-anchor="middle" font-weight="normal" font-style="normal" fill="#111" stroke="#111" stroke-width="0.22" >+/-</text>
<text x="330.6" y="322.3" font-size="5.8" text-anchor="middle" font-weight="normal" font-style="normal" fill="#111" stroke="#111" stroke-width="0.22" >-/-</text>
<line x1="293.8" y1="324.2" x2="336.9" y2="324.2" stroke="#444" stroke-width="0.8" />
<text x="316" y="330.2" font-size="6.2" text-anchor="middle" font-weight="normal" font-style="italic" fill="#111" stroke="#111" stroke-width="0.22" >SclCre<tspan font-size="4.2" dy="-2.3">ER</tspan><tspan dy="2.3">;V617F</tspan></text>
<line x1="267.7" y1="290.7" x2="299.6" y2="290.7" stroke="#222" stroke-width="0.8" />
<circle cx="281.00" cy="286.7" r="1.05" fill="#111"/>
<circle cx="284.80" cy="286.7" r="1.05" fill="#111"/>
<text x="389.8" y="242.5" font-size="6.4" text-anchor="middle" font-weight="normal" font-style="normal" fill="#111" stroke="#111" stroke-width="0.22" >CFU-MK (AchE positive)</text>
<text x="390.8" y="250.2" font-size="6.4" text-anchor="middle" font-weight="normal" font-style="normal" fill="#111" stroke="#111" stroke-width="0.22" >per 5x10<tspan font-size="4.2" dy="-2.3">4</tspan><tspan dy="2.3"> BM cells</tspan></text>
<line x1="350.5" y1="265" x2="350.5" y2="316.5" stroke="#222" stroke-width="0.8" />
<line x1="350.5" y1="316.5" x2="428" y2="316.5" stroke="#222" stroke-width="0.8" />
<line x1="349.1" y1="265.20000000000005" x2="350.5" y2="265.20000000000005" stroke="#222" stroke-width="0.7" />
<text x="348.8" y="266.92800000000005" font-size="4.8" text-anchor="end" font-weight="normal" font-style="normal" fill="#333" stroke="#333" stroke-width="0.12" >24</text>
<line x1="349.1" y1="277.925" x2="350.5" y2="277.925" stroke="#222" stroke-width="0.7" />
<text x="348.8" y="279.653" font-size="4.8" text-anchor="end" font-weight="normal" font-style="normal" fill="#333" stroke="#333" stroke-width="0.12" >18</text>
<line x1="349.1" y1="290.65000000000003" x2="350.5" y2="290.65000000000003" stroke="#222" stroke-width="0.7" />
<text x="348.8" y="292.37800000000004" font-size="4.8" text-anchor="end" font-weight="normal" font-style="normal" fill="#333" stroke="#333" stroke-width="0.12" >12</text>
<line x1="349.1" y1="303.375" x2="350.5" y2="303.375" stroke="#222" stroke-width="0.7" />
<text x="348.8" y="305.103" font-size="4.8" text-anchor="end" font-weight="normal" font-style="normal" fill="#333" stroke="#333" stroke-width="0.12" >6</text>
<line x1="349.1" y1="316.1" x2="350.5" y2="316.1" stroke="#222" stroke-width="0.7" />
<text x="348.8" y="317.82800000000003" font-size="4.8" text-anchor="end" font-weight="normal" font-style="normal" fill="#333" stroke="#333" stroke-width="0.12" >0</text>
<rect x="353.9" y="305.29999999999995" width="10.00000000000001" height="11.200000000000022" fill="#ffffff" stroke="#444444" stroke-width="0.85" />
<line x1="358.9" y1="304.1" x2="358.9" y2="304.9" stroke="#444" stroke-width="0.7" />
<line x1="356.29999999999995" y1="304.1" x2="361.5" y2="304.1" stroke="#444" stroke-width="0.7" />
<rect x="369.09999999999997" y="297.5" width="10.2" height="18.99999999999998" fill="#9fcbf0" stroke="#3a70a8" stroke-width="0.85" />
<line x1="374.2" y1="291.1" x2="374.2" y2="303.4" stroke="#2d5a8a" stroke-width="0.7" />
<line x1="371.59999999999997" y1="291.1" x2="376.8" y2="291.1" stroke="#2d5a8a" stroke-width="0.7" />
<line x1="371.59999999999997" y1="303.4" x2="376.8" y2="303.4" stroke="#2d5a8a" stroke-width="0.7" />
<rect x="385.0" y="288.5" width="9.7" height="27.99999999999998" fill="#060606" stroke="#000000" stroke-width="0.85" />
<line x1="389.85" y1="284.3" x2="389.85" y2="288.1" stroke="#000" stroke-width="0.7" />
<line x1="387.25" y1="284.3" x2="392.45000000000005" y2="284.3" stroke="#000" stroke-width="0.7" />
<rect x="400.59999999999997" y="290.29999999999995" width="9.7" height="26.200000000000024" fill="#6ca03e" stroke="#355c1c" stroke-width="0.85" />
<line x1="405.45" y1="283.2" x2="405.45" y2="296.7" stroke="#2f4f18" stroke-width="0.7" />
<line x1="402.84999999999997" y1="283.2" x2="408.05" y2="283.2" stroke="#2f4f18" stroke-width="0.7" />
<line x1="402.84999999999997" y1="296.7" x2="408.05" y2="296.7" stroke="#2f4f18" stroke-width="0.7" />
<rect x="416.09999999999997" y="299.59999999999997" width="9.7" height="16.900000000000013" fill="#d63a28" stroke="#8e2416" stroke-width="0.85" />
<line x1="420.95" y1="298.2" x2="420.95" y2="299.2" stroke="#5a2a22" stroke-width="0.7" />
<line x1="418.34999999999997" y1="298.2" x2="423.55" y2="298.2" stroke="#5a2a22" stroke-width="0.7" />
<text x="358.9" y="321.6" font-size="5.8" text-anchor="middle" font-weight="normal" font-style="normal" fill="#111" stroke="#111" stroke-width="0.22" >+/+</text>
<text x="374.2" y="321.6" font-size="5.8" text-anchor="middle" font-weight="normal" font-style="normal" fill="#111" stroke="#111" stroke-width="0.22" >-/-</text>
<text x="389.85" y="321.6" font-size="5.8" text-anchor="middle" font-weight="normal" font-style="normal" fill="#111" stroke="#111" stroke-width="0.22" >+/+</text>
<text x="405.45" y="321.6" font-size="5.8" text-anchor="middle" font-weight="normal" font-style="normal" fill="#111" stroke="#111" stroke-width="0.22" >+/-</text>
<text x="420.95" y="321.6" font-size="5.8" text-anchor="middle" font-weight="normal" font-style="normal" fill="#111" stroke="#111" stroke-width="0.22" >-/-</text>
<line x1="382.7" y1="324" x2="424.6" y2="324" stroke="#444" stroke-width="0.8" />
<text x="405.6" y="331.6" font-size="6.2" text-anchor="middle" font-weight="normal" font-style="italic" fill="#111" stroke="#111" stroke-width="0.22" >SclCre<tspan font-size="4.2" dy="-2.3">ER</tspan><tspan dy="2.3">;V617F</tspan></text>
<line x1="358.7" y1="279.5" x2="390.1" y2="279.5" stroke="#222" stroke-width="0.8" />
<circle cx="371.80" cy="275" r="1.05" fill="#111"/>
<circle cx="375.60" cy="275" r="1.05" fill="#111"/>
<line x1="388.2" y1="264.2" x2="420.4" y2="264.2" stroke="#222" stroke-width="0.8" />
<circle cx="403.20" cy="259.7" r="1.05" fill="#111"/>
<text x="482.3" y="242.7" font-size="6.3" text-anchor="middle" font-weight="normal" font-style="normal" fill="#111" stroke="#111" stroke-width="0.22" >CFU-MK (AchE positive)</text>
<text x="483.5" y="250.5" font-size="6.3" text-anchor="middle" font-weight="normal" font-style="normal" fill="#111" stroke="#111" stroke-width="0.22" >per 1.65x10<tspan font-size="4.2" dy="-2.3">5</tspan><tspan dy="2.3"> spleen cells</tspan></text>
<line x1="443" y1="265.8" x2="443" y2="315.7" stroke="#222" stroke-width="0.8" />
<line x1="443" y1="315.7" x2="517" y2="315.7" stroke="#222" stroke-width="0.8" />
<line x1="441.6" y1="266.3" x2="443" y2="266.3" stroke="#222" stroke-width="0.7" />
<text x="441.3" y="268.028" font-size="4.8" text-anchor="end" font-weight="normal" font-style="normal" fill="#333" stroke="#333" stroke-width="0.12" >24</text>
<line x1="441.6" y1="278.65" x2="443" y2="278.65" stroke="#222" stroke-width="0.7" />
<text x="441.3" y="280.378" font-size="4.8" text-anchor="end" font-weight="normal" font-style="normal" fill="#333" stroke="#333" stroke-width="0.12" >18</text>
<line x1="441.6" y1="291.0" x2="443" y2="291.0" stroke="#222" stroke-width="0.7" />
<text x="441.3" y="292.728" font-size="4.8" text-anchor="end" font-weight="normal" font-style="normal" fill="#333" stroke="#333" stroke-width="0.12" >12</text>
<line x1="441.6" y1="303.34999999999997" x2="443" y2="303.34999999999997" stroke="#222" stroke-width="0.7" />
<text x="441.3" y="305.078" font-size="4.8" text-anchor="end" font-weight="normal" font-style="normal" fill="#333" stroke="#333" stroke-width="0.12" >6</text>
<line x1="441.6" y1="315.7" x2="443" y2="315.7" stroke="#222" stroke-width="0.7" />
<text x="441.3" y="317.428" font-size="4.8" text-anchor="end" font-weight="normal" font-style="normal" fill="#333" stroke="#333" stroke-width="0.12" >0</text>
<rect x="445.59999999999997" y="303.0" width="9.7" height="12.699999999999966" fill="#ffffff" stroke="#444444" stroke-width="0.85" />
<line x1="450.45" y1="299.2" x2="450.45" y2="306.2" stroke="#444" stroke-width="0.7" />
<line x1="447.84999999999997" y1="299.2" x2="453.05" y2="299.2" stroke="#444" stroke-width="0.7" />
<line x1="447.84999999999997" y1="306.2" x2="453.05" y2="306.2" stroke="#444" stroke-width="0.7" />
<rect x="460.59999999999997" y="304.5" width="9.7" height="11.199999999999966" fill="#9fcbf0" stroke="#3a70a8" stroke-width="0.85" />
<line x1="465.45" y1="297.7" x2="465.45" y2="310.4" stroke="#2d5a8a" stroke-width="0.7" />
<line x1="462.84999999999997" y1="297.7" x2="468.05" y2="297.7" stroke="#2d5a8a" stroke-width="0.7" />
<line x1="462.84999999999997" y1="310.4" x2="468.05" y2="310.4" stroke="#2d5a8a" stroke-width="0.7" />
<rect x="476.59999999999997" y="278.59999999999997" width="8.7" height="37.1" fill="#060606" stroke="#000000" stroke-width="0.85" />
<line x1="480.95" y1="273" x2="480.95" y2="278.2" stroke="#000" stroke-width="0.7" />
<line x1="478.34999999999997" y1="273" x2="483.55" y2="273" stroke="#000" stroke-width="0.7" />
<rect x="491.0" y="277.7" width="9.599999999999977" height="37.99999999999998" fill="#6ca03e" stroke="#355c1c" stroke-width="0.85" />
<line x1="495.8" y1="270" x2="495.8" y2="285" stroke="#2f4f18" stroke-width="0.7" />
<line x1="493.2" y1="270" x2="498.40000000000003" y2="270" stroke="#2f4f18" stroke-width="0.7" />
<line x1="493.2" y1="285" x2="498.40000000000003" y2="285" stroke="#2f4f18" stroke-width="0.7" />
<rect x="506.4" y="300.09999999999997" width="9.2" height="15.6" fill="#d63a28" stroke="#8e2416" stroke-width="0.85" />
<line x1="511.0" y1="296.4" x2="511.0" y2="299.7" stroke="#5a2a22" stroke-width="0.7" />
<line x1="508.4" y1="296.4" x2="513.6" y2="296.4" stroke="#5a2a22" stroke-width="0.7" />
<text x="450.45" y="322" font-size="5.8" text-anchor="middle" font-weight="normal" font-style="normal" fill="#111" stroke="#111" stroke-width="0.22" >+/+</text>
<text x="465.45" y="322" font-size="5.8" text-anchor="middle" font-weight="normal" font-style="normal" fill="#111" stroke="#111" stroke-width="0.22" >-/-</text>
<text x="480.95" y="322" font-size="5.8" text-anchor="middle" font-weight="normal" font-style="normal" fill="#111" stroke="#111" stroke-width="0.22" >+/+</text>
<text x="495.8" y="322" font-size="5.8" text-anchor="middle" font-weight="normal" font-style="normal" fill="#111" stroke="#111" stroke-width="0.22" >+/-</text>
<text x="511.0" y="322" font-size="5.8" text-anchor="middle" font-weight="normal" font-style="normal" fill="#111" stroke="#111" stroke-width="0.22" >-/-</text>
<line x1="474.8" y1="324.6" x2="517" y2="324.6" stroke="#444" stroke-width="0.8" />
<text x="495.4" y="331.2" font-size="6.2" text-anchor="middle" font-weight="normal" font-style="italic" fill="#111" stroke="#111" stroke-width="0.22" >SclCre<tspan font-size="4.2" dy="-2.3">ER</tspan><tspan dy="2.3">;V617F</tspan></text>
<line x1="448.2" y1="269.6" x2="480.1" y2="269.6" stroke="#222" stroke-width="0.8" />
<circle cx="463.20" cy="265.1" r="1.05" fill="#111"/>
<line x1="479.2" y1="264.2" x2="511.6" y2="264.2" stroke="#222" stroke-width="0.8" />
<circle cx="494.60" cy="259.7" r="1.05" fill="#111"/>
</g>
</svg>
</body></html>
